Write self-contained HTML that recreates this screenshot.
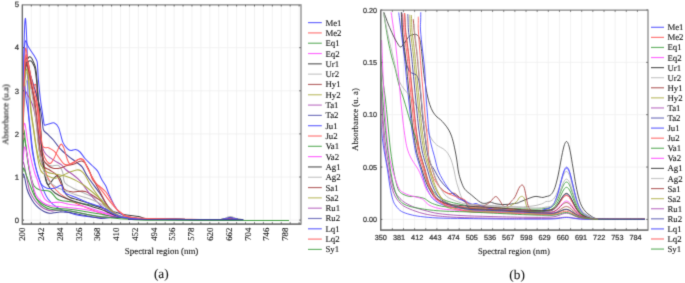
<!DOCTYPE html>
<html><head><meta charset="utf-8"><style>
html,body{margin:0;padding:0;background:#fff;width:685px;height:283px;overflow:hidden;}
svg{display:block;will-change:transform;}
text{text-rendering:geometricPrecision;}
.s{font-family:"Liberation Serif",serif;fill:#151515;stroke:#151515;stroke-width:0.1px;}
.n{font-family:"Liberation Sans",sans-serif;fill:#333;stroke:#333;stroke-width:0.22px;}
</style></head><body>
<svg width="685" height="283" viewBox="0 0 685 283">
<defs><filter id="bl" x="0" y="0" width="685" height="283" filterUnits="userSpaceOnUse" color-interpolation-filters="sRGB"><feConvolveMatrix order="3" kernelMatrix="1 6 1 6 36 6 1 6 1" divisor="64" edgeMode="duplicate"/></filter></defs>
<g filter="url(#bl)"><rect width="685" height="283" fill="#fff"/>
<defs><clipPath id="clipL"><rect x="22.4" y="4.8" width="278.6" height="219.2"/></clipPath><clipPath id="clipR"><rect x="380.9" y="12.2" width="267.1" height="217.4"/></clipPath></defs>
<path d="M31.30,4.8V224.0 M40.22,4.8V224.0 M49.15,4.8V224.0 M58.08,4.8V224.0 M67.00,4.8V224.0 M75.93,4.8V224.0 M84.86,4.8V224.0 M93.79,4.8V224.0 M102.71,4.8V224.0 M111.64,4.8V224.0 M120.57,4.8V224.0 M129.49,4.8V224.0 M138.42,4.8V224.0 M147.35,4.8V224.0 M156.28,4.8V224.0 M165.20,4.8V224.0 M174.13,4.8V224.0 M183.06,4.8V224.0 M191.98,4.8V224.0 M200.91,4.8V224.0 M209.84,4.8V224.0 M218.76,4.8V224.0 M227.69,4.8V224.0 M236.62,4.8V224.0 M245.54,4.8V224.0 M254.47,4.8V224.0 M263.40,4.8V224.0 M272.33,4.8V224.0 M281.25,4.8V224.0 M290.18,4.8V224.0 M299.11,4.8V224.0 M22.4,220.10H301.0 M22.4,177.00H301.0 M22.4,133.90H301.0 M22.4,90.80H301.0 M22.4,47.70H301.0" stroke="#efefef" stroke-width="0.8" fill="none"/>
<g clip-path="url(#clipL)" fill="none" stroke-width="1.05" stroke-linejoin="round">
<path d="M22.80,160.00 C22.93,145.00 23.32,91.67 23.60,70.00 C23.88,48.33 24.22,38.58 24.50,30.00 C24.78,21.42 25.03,19.17 25.30,18.50 C25.57,17.83 25.82,21.25 26.10,26.00 C26.38,30.75 26.75,39.67 27.00,47.00 C27.25,54.33 27.45,62.83 27.60,70.00 C27.75,77.17 27.77,83.33 27.90,90.00 C28.03,96.67 27.98,103.33 28.40,110.00 C28.82,116.67 29.68,123.33 30.40,130.00 C31.12,136.67 31.77,143.67 32.70,150.00 C33.63,156.33 34.62,162.33 36.00,168.00 C37.38,173.67 39.00,178.83 41.00,184.00 C43.00,189.17 45.17,195.00 48.00,199.00 C50.83,203.00 53.50,205.42 58.00,208.00 C62.50,210.58 68.00,212.83 75.00,214.50 C82.00,216.17 95.33,217.43 100.00,218.00 C104.67,218.57 102.00,217.98 103.00,217.94 C104.00,217.90 105.00,217.83 106.00,217.76 C107.00,217.69 108.00,217.60 109.00,217.52 C110.00,217.43 111.00,217.29 112.00,217.24 C113.00,217.20 114.00,217.23 115.00,217.25 C116.00,217.27 117.00,217.31 118.00,217.36 C119.00,217.41 119.83,217.47 121.00,217.55 C122.17,217.63 123.33,217.72 125.00,217.84 C126.67,217.95 128.83,218.12 131.00,218.25 C133.17,218.38 135.50,218.51 138.00,218.62 C140.50,218.73 143.00,218.83 146.00,218.92 C149.00,219.01 152.00,219.09 156.00,219.17 C160.00,219.24 161.83,219.30 170.00,219.37 C178.17,219.44 198.00,219.56 205.00,219.60 C212.00,219.64 209.83,219.60 212.00,219.60 C214.17,219.60 216.33,219.61 218.00,219.59 C219.67,219.58 220.83,219.56 222.00,219.50 C223.17,219.43 224.00,219.33 225.00,219.20 C226.00,219.08 227.12,218.86 228.00,218.76 C228.88,218.66 229.55,218.60 230.30,218.60 C231.05,218.60 231.63,218.65 232.50,218.75 C233.37,218.85 234.50,219.07 235.50,219.19 C236.50,219.31 237.25,219.42 238.50,219.49 C239.75,219.56 242.25,219.58 243.00,219.60" stroke="#5050ff"/>
<path d="M22.80,150.00 C23.00,138.33 23.60,96.33 24.00,80.00 C24.40,63.67 24.88,57.25 25.20,52.00 C25.52,46.75 25.63,48.33 25.90,48.50 C26.17,48.67 26.37,49.75 26.80,53.00 C27.23,56.25 27.85,62.83 28.50,68.00 C29.15,73.17 30.22,80.60 30.70,84.00 C31.18,87.40 31.02,87.90 31.40,88.40 C31.78,88.90 32.28,87.65 33.00,87.00 C33.72,86.35 35.12,83.17 35.70,84.50 C36.28,85.83 36.20,90.75 36.50,95.00 C36.80,99.25 37.00,104.17 37.50,110.00 C38.00,115.83 38.83,123.33 39.50,130.00 C40.17,136.67 40.75,144.17 41.50,150.00 C42.25,155.83 42.92,160.33 44.00,165.00 C45.08,169.67 46.00,173.83 48.00,178.00 C50.00,182.17 53.00,186.67 56.00,190.00 C59.00,193.33 62.00,195.50 66.00,198.00 C70.00,200.50 74.33,202.50 80.00,205.00 C85.67,207.50 96.17,211.48 100.00,213.00 C103.83,214.52 102.00,213.78 103.00,214.10 C104.00,214.43 105.00,214.72 106.00,214.97 C107.00,215.22 108.00,215.41 109.00,215.58 C110.00,215.74 111.00,215.80 112.00,215.96 C113.00,216.13 114.00,216.39 115.00,216.57 C116.00,216.75 117.00,216.90 118.00,217.05 C119.00,217.19 119.83,217.29 121.00,217.42 C122.17,217.55 123.33,217.67 125.00,217.81 C126.67,217.95 128.83,218.11 131.00,218.25 C133.17,218.38 135.50,218.51 138.00,218.62 C140.50,218.73 143.00,218.83 146.00,218.92 C149.00,219.01 152.00,219.09 156.00,219.17 C160.00,219.24 161.83,219.30 170.00,219.37 C178.17,219.44 198.00,219.56 205.00,219.60 C212.00,219.64 209.83,219.60 212.00,219.60 C214.17,219.60 216.33,219.61 218.00,219.60 C219.67,219.59 220.83,219.58 222.00,219.54 C223.17,219.50 224.00,219.44 225.00,219.36 C226.00,219.29 227.12,219.16 228.00,219.10 C228.88,219.04 229.55,219.00 230.30,219.00 C231.05,219.00 231.63,219.03 232.50,219.09 C233.37,219.15 234.50,219.28 235.50,219.35 C236.50,219.43 237.25,219.49 238.50,219.54 C239.75,219.58 242.25,219.59 243.00,219.60" stroke="#ff6262"/>
<path d="M22.80,160.00 C22.87,155.83 23.05,140.03 23.20,135.00 C23.35,129.97 23.48,130.13 23.70,129.80 C23.92,129.47 24.17,130.47 24.50,133.00 C24.83,135.53 25.12,140.00 25.70,145.00 C26.28,150.00 27.12,157.67 28.00,163.00 C28.88,168.33 29.98,173.17 31.00,177.00 C32.02,180.83 32.60,183.83 34.10,186.00 C35.60,188.17 37.35,189.08 40.00,190.00 C42.65,190.92 47.15,190.00 50.00,191.50 C52.85,193.00 54.75,197.42 57.10,199.00 C59.45,200.58 60.28,200.33 64.10,201.00 C67.92,201.67 74.02,202.00 80.00,203.00 C85.98,204.00 96.17,206.18 100.00,207.00 C103.83,207.82 102.00,207.54 103.00,207.93 C104.00,208.32 105.00,208.84 106.00,209.35 C107.00,209.86 108.00,210.45 109.00,210.98 C110.00,211.52 111.00,212.03 112.00,212.56 C113.00,213.09 114.00,213.69 115.00,214.19 C116.00,214.68 117.00,215.13 118.00,215.52 C119.00,215.91 119.83,216.21 121.00,216.53 C122.17,216.85 123.33,217.16 125.00,217.43 C126.67,217.71 128.83,217.97 131.00,218.17 C133.17,218.37 135.50,218.49 138.00,218.61 C140.50,218.73 143.00,218.82 146.00,218.92 C149.00,219.01 152.00,219.09 156.00,219.17 C160.00,219.24 161.83,219.30 170.00,219.37 C178.17,219.44 198.00,219.56 205.00,219.60 C212.00,219.64 209.83,219.60 212.00,219.60 C214.17,219.60 216.33,219.61 218.00,219.60 C219.67,219.59 220.83,219.58 222.00,219.55 C223.17,219.52 224.00,219.46 225.00,219.40 C226.00,219.34 227.12,219.23 228.00,219.18 C228.88,219.13 229.55,219.10 230.30,219.10 C231.05,219.10 231.63,219.12 232.50,219.17 C233.37,219.22 234.50,219.33 235.50,219.40 C236.50,219.46 237.25,219.51 238.50,219.55 C239.75,219.58 242.25,219.59 243.00,219.60" stroke="#44a044"/>
<path d="M22.80,150.00 C22.93,146.33 23.33,132.43 23.60,128.00 C23.87,123.57 24.10,123.73 24.40,123.40 C24.70,123.07 24.97,123.73 25.40,126.00 C25.83,128.27 26.37,133.00 27.00,137.00 C27.63,141.00 28.37,145.67 29.20,150.00 C30.03,154.33 31.03,159.00 32.00,163.00 C32.97,167.00 34.10,171.17 35.00,174.00 C35.90,176.83 36.48,177.33 37.40,180.00 C38.32,182.67 39.27,186.83 40.50,190.00 C41.73,193.17 43.33,196.95 44.80,199.00 C46.27,201.05 47.77,201.72 49.30,202.30 C50.83,202.88 52.27,202.50 54.00,202.50 C55.73,202.50 57.03,201.97 59.70,202.30 C62.37,202.63 66.28,203.88 70.00,204.50 C73.72,205.12 77.00,204.88 82.00,206.00 C87.00,207.12 96.50,210.17 100.00,211.20 C103.50,212.23 102.00,211.83 103.00,212.17 C104.00,212.51 105.00,212.89 106.00,213.22 C107.00,213.56 108.00,213.91 109.00,214.20 C110.00,214.49 111.00,214.71 112.00,214.99 C113.00,215.28 114.00,215.64 115.00,215.91 C116.00,216.19 117.00,216.43 118.00,216.64 C119.00,216.86 119.83,217.02 121.00,217.20 C122.17,217.38 123.33,217.55 125.00,217.73 C126.67,217.90 128.83,218.08 131.00,218.23 C133.17,218.38 135.50,218.50 138.00,218.62 C140.50,218.73 143.00,218.83 146.00,218.92 C149.00,219.01 152.00,219.09 156.00,219.17 C160.00,219.24 161.83,219.30 170.00,219.37 C178.17,219.44 198.00,219.56 205.00,219.60 C212.00,219.64 209.83,219.60 212.00,219.60 C214.17,219.60 216.33,219.61 218.00,219.60 C219.67,219.59 220.83,219.58 222.00,219.55 C223.17,219.52 224.00,219.46 225.00,219.40 C226.00,219.34 227.12,219.23 228.00,219.18 C228.88,219.13 229.55,219.10 230.30,219.10 C231.05,219.10 231.63,219.12 232.50,219.17 C233.37,219.22 234.50,219.33 235.50,219.40 C236.50,219.46 237.25,219.51 238.50,219.55 C239.75,219.58 242.25,219.59 243.00,219.60" stroke="#ff58ff"/>
<path d="M22.80,120.00 C23.08,112.67 23.88,85.67 24.50,76.00 C25.12,66.33 25.75,65.17 26.50,62.00 C27.25,58.83 28.17,57.67 29.00,57.00 C29.83,56.33 30.75,57.17 31.50,58.00 C32.25,58.83 32.82,60.33 33.50,62.00 C34.18,63.67 35.02,65.00 35.60,68.00 C36.18,71.00 36.57,74.67 37.00,80.00 C37.43,85.33 37.87,95.00 38.20,100.00 C38.53,105.00 38.67,105.83 39.00,110.00 C39.33,114.17 39.70,118.67 40.20,125.00 C40.70,131.33 41.48,142.17 42.00,148.00 C42.52,153.83 42.73,154.95 43.30,160.00 C43.87,165.05 44.57,174.20 45.40,178.30 C46.23,182.40 46.88,184.60 48.30,184.60 C49.72,184.60 52.37,179.80 53.90,178.30 C55.43,176.80 56.40,175.48 57.50,175.60 C58.60,175.72 59.58,177.10 60.50,179.00 C61.42,180.90 62.10,184.47 63.00,187.00 C63.90,189.53 64.73,192.45 65.90,194.20 C67.07,195.95 68.23,196.62 70.00,197.50 C71.77,198.38 73.95,198.73 76.50,199.50 C79.05,200.27 81.38,200.78 85.30,202.10 C89.22,203.42 93.92,205.42 100.00,207.40 C106.08,209.38 115.33,212.47 121.80,214.00 C128.27,215.53 133.70,215.73 138.80,216.60 C143.90,217.47 141.37,218.70 152.40,219.20 C163.43,219.70 195.07,219.53 205.00,219.60 C214.93,219.67 209.83,219.60 212.00,219.60 C214.17,219.60 216.33,219.62 218.00,219.59 C219.67,219.56 220.83,219.54 222.00,219.44 C223.17,219.33 224.00,219.16 225.00,218.97 C226.00,218.77 227.12,218.42 228.00,218.26 C228.88,218.10 229.55,218.00 230.30,218.00 C231.05,218.00 231.63,218.08 232.50,218.24 C233.37,218.39 234.50,218.75 235.50,218.95 C236.50,219.14 237.25,219.32 238.50,219.43 C239.75,219.53 242.25,219.56 243.00,219.59" stroke="#444444"/>
<path d="M22.80,130.00 C23.08,122.50 23.80,94.67 24.50,85.00 C25.20,75.33 26.08,72.83 27.00,72.00 C27.92,71.17 29.00,76.50 30.00,80.00 C31.00,83.50 32.13,88.00 33.00,93.00 C33.87,98.00 34.48,103.83 35.20,110.00 C35.92,116.17 36.58,123.33 37.30,130.00 C38.02,136.67 38.63,145.00 39.50,150.00 C40.37,155.00 41.25,157.67 42.50,160.00 C43.75,162.33 45.42,163.00 47.00,164.00 C48.58,165.00 50.10,165.77 52.00,166.00 C53.90,166.23 56.63,164.40 58.40,165.40 C60.17,166.40 61.50,169.07 62.60,172.00 C63.70,174.93 62.68,180.05 65.00,183.00 C67.32,185.95 72.23,187.55 76.50,189.70 C80.77,191.85 86.68,194.18 90.60,195.90 C94.52,197.62 97.93,199.01 100.00,200.00 C102.07,200.99 102.00,201.10 103.00,201.85 C104.00,202.60 105.00,203.56 106.00,204.49 C107.00,205.41 108.00,206.46 109.00,207.39 C110.00,208.33 111.00,209.24 112.00,210.12 C113.00,210.99 114.00,211.90 115.00,212.66 C116.00,213.41 117.00,214.08 118.00,214.64 C119.00,215.21 119.83,215.63 121.00,216.07 C122.17,216.50 123.33,216.91 125.00,217.26 C126.67,217.60 128.83,217.91 131.00,218.14 C133.17,218.36 135.50,218.48 138.00,218.61 C140.50,218.74 143.00,218.82 146.00,218.92 C149.00,219.01 152.00,219.09 156.00,219.17 C160.00,219.24 161.83,219.30 170.00,219.37 C178.17,219.44 198.00,219.56 205.00,219.60 C212.00,219.64 209.83,219.60 212.00,219.60 C214.17,219.60 216.33,219.62 218.00,219.58 C219.67,219.54 220.83,219.51 222.00,219.35 C223.17,219.20 224.00,218.95 225.00,218.65 C226.00,218.36 227.12,217.83 228.00,217.59 C228.88,217.34 229.55,217.21 230.30,217.20 C231.05,217.19 231.63,217.32 232.50,217.55 C233.37,217.79 234.50,218.32 235.50,218.62 C236.50,218.92 237.25,219.18 238.50,219.34 C239.75,219.50 242.25,219.55 243.00,219.59" stroke="#b4b4b4"/>
<path d="M22.80,120.00 C23.08,111.67 23.97,80.33 24.50,70.00 C25.03,59.67 25.42,59.33 26.00,58.00 C26.58,56.67 27.33,59.67 28.00,62.00 C28.67,64.33 29.33,67.67 30.00,72.00 C30.67,76.33 31.17,81.67 32.00,88.00 C32.83,94.33 34.13,103.00 35.00,110.00 C35.87,117.00 36.50,123.33 37.20,130.00 C37.90,136.67 38.48,144.67 39.20,150.00 C39.92,155.33 40.70,159.17 41.50,162.00 C42.30,164.83 42.58,165.62 44.00,167.00 C45.42,168.38 47.82,168.87 50.00,170.30 C52.18,171.73 54.75,172.48 57.10,175.60 C59.45,178.72 61.45,186.27 64.10,189.00 C66.75,191.73 69.47,191.58 73.00,192.00 C76.53,192.42 80.80,190.12 85.30,191.50 C89.80,192.88 97.05,198.33 100.00,200.30 C102.95,202.27 102.00,202.29 103.00,203.35 C104.00,204.40 105.00,205.58 106.00,206.63 C107.00,207.68 108.00,208.74 109.00,209.65 C110.00,210.56 111.00,211.33 112.00,212.09 C113.00,212.85 114.00,213.60 115.00,214.21 C116.00,214.81 117.00,215.30 118.00,215.72 C119.00,216.14 119.83,216.43 121.00,216.74 C122.17,217.04 123.33,217.32 125.00,217.56 C126.67,217.81 128.83,218.03 131.00,218.21 C133.17,218.38 135.50,218.50 138.00,218.62 C140.50,218.73 143.00,218.83 146.00,218.92 C149.00,219.01 152.00,219.09 156.00,219.17 C160.00,219.24 161.83,219.30 170.00,219.37 C178.17,219.44 198.00,219.56 205.00,219.60 C212.00,219.64 209.83,219.60 212.00,219.60 C214.17,219.60 216.33,219.60 218.00,219.60 C219.67,219.59 220.83,219.58 222.00,219.56 C223.17,219.53 224.00,219.49 225.00,219.44 C226.00,219.39 227.12,219.30 228.00,219.26 C228.88,219.22 229.55,219.20 230.30,219.20 C231.05,219.20 231.63,219.22 232.50,219.26 C233.37,219.30 234.50,219.39 235.50,219.44 C236.50,219.49 237.25,219.53 238.50,219.56 C239.75,219.58 242.25,219.59 243.00,219.60" stroke="#a84444"/>
<path d="M22.80,125.00 C23.08,116.67 23.97,85.50 24.50,75.00 C25.03,64.50 25.50,63.17 26.00,62.00 C26.50,60.83 27.00,64.17 27.50,68.00 C28.00,71.83 28.47,78.00 29.00,85.00 C29.53,92.00 29.95,102.50 30.70,110.00 C31.45,117.50 32.55,123.33 33.50,130.00 C34.45,136.67 35.23,143.33 36.40,150.00 C37.57,156.67 38.52,165.65 40.50,170.00 C42.48,174.35 45.83,174.72 48.30,176.10 C50.77,177.48 52.67,178.53 55.30,178.30 C57.93,178.07 61.65,175.75 64.10,174.70 C66.55,173.65 67.93,172.78 70.00,172.00 C72.07,171.22 74.75,170.25 76.50,170.00 C78.25,169.75 79.08,169.67 80.50,170.50 C81.92,171.33 83.32,172.53 85.00,175.00 C86.68,177.47 88.10,181.37 90.60,185.30 C93.10,189.23 97.93,195.66 100.00,198.60 C102.07,201.54 102.00,201.53 103.00,202.93 C104.00,204.32 105.00,205.75 106.00,206.99 C107.00,208.22 108.00,209.36 109.00,210.33 C110.00,211.29 111.00,212.04 112.00,212.78 C113.00,213.53 114.00,214.22 115.00,214.77 C116.00,215.33 117.00,215.75 118.00,216.11 C119.00,216.48 119.83,216.71 121.00,216.97 C122.17,217.23 123.33,217.45 125.00,217.66 C126.67,217.87 128.83,218.07 131.00,218.23 C133.17,218.39 135.50,218.50 138.00,218.62 C140.50,218.73 143.00,218.83 146.00,218.92 C149.00,219.01 152.00,219.09 156.00,219.17 C160.00,219.24 161.83,219.30 170.00,219.37 C178.17,219.44 198.00,219.56 205.00,219.60 C212.00,219.64 209.83,219.60 212.00,219.60 C214.17,219.60 216.33,219.60 218.00,219.60 C219.67,219.59 220.83,219.58 222.00,219.56 C223.17,219.53 224.00,219.49 225.00,219.44 C226.00,219.39 227.12,219.30 228.00,219.26 C228.88,219.22 229.55,219.20 230.30,219.20 C231.05,219.20 231.63,219.22 232.50,219.26 C233.37,219.30 234.50,219.39 235.50,219.44 C236.50,219.49 237.25,219.53 238.50,219.56 C239.75,219.58 242.25,219.59 243.00,219.60" stroke="#acac48"/>
<path d="M22.80,140.00 C23.00,134.17 23.55,113.00 24.00,105.00 C24.45,97.00 24.92,93.67 25.50,92.00 C26.08,90.33 26.67,93.67 27.50,95.00 C28.33,96.33 29.50,97.83 30.50,100.00 C31.50,102.17 32.50,104.33 33.50,108.00 C34.50,111.67 35.58,117.50 36.50,122.00 C37.42,126.50 38.17,131.17 39.00,135.00 C39.83,138.83 40.38,141.83 41.50,145.00 C42.62,148.17 43.60,151.43 45.70,154.00 C47.80,156.57 51.52,158.62 54.10,160.40 C56.68,162.18 59.18,163.10 61.20,164.70 C63.22,166.30 64.40,168.45 66.20,170.00 C68.00,171.55 69.70,172.18 72.00,174.00 C74.30,175.82 76.90,177.40 80.00,180.90 C83.10,184.40 87.27,191.02 90.60,195.00 C93.93,198.98 97.93,202.65 100.00,204.80 C102.07,206.95 102.00,206.92 103.00,207.89 C104.00,208.86 105.00,209.82 106.00,210.64 C107.00,211.45 108.00,212.18 109.00,212.80 C110.00,213.41 111.00,213.84 112.00,214.32 C113.00,214.80 114.00,215.28 115.00,215.66 C116.00,216.04 117.00,216.33 118.00,216.58 C119.00,216.84 119.83,217.01 121.00,217.20 C122.17,217.40 123.33,217.57 125.00,217.74 C126.67,217.91 128.83,218.09 131.00,218.24 C133.17,218.39 135.50,218.50 138.00,218.62 C140.50,218.73 143.00,218.83 146.00,218.92 C149.00,219.01 152.00,219.09 156.00,219.17 C160.00,219.24 161.83,219.30 170.00,219.37 C178.17,219.44 198.00,219.56 205.00,219.60 C212.00,219.64 209.83,219.60 212.00,219.60 C214.17,219.60 216.33,219.61 218.00,219.60 C219.67,219.59 220.83,219.58 222.00,219.55 C223.17,219.52 224.00,219.46 225.00,219.40 C226.00,219.34 227.12,219.23 228.00,219.18 C228.88,219.13 229.55,219.10 230.30,219.10 C231.05,219.10 231.63,219.12 232.50,219.17 C233.37,219.22 234.50,219.33 235.50,219.40 C236.50,219.46 237.25,219.51 238.50,219.55 C239.75,219.58 242.25,219.59 243.00,219.60" stroke="#a854b0"/>
<path d="M22.80,130.00 C23.00,121.67 23.55,91.33 24.00,80.00 C24.45,68.67 24.83,64.00 25.50,62.00 C26.17,60.00 26.92,65.00 28.00,68.00 C29.08,71.00 30.83,76.33 32.00,80.00 C33.17,83.67 34.00,86.67 35.00,90.00 C36.00,93.33 37.07,96.67 38.00,100.00 C38.93,103.33 39.87,106.33 40.60,110.00 C41.33,113.67 41.92,118.67 42.40,122.00 C42.88,125.33 42.62,127.97 43.50,130.00 C44.38,132.03 46.05,132.53 47.70,134.20 C49.35,135.87 51.38,137.63 53.40,140.00 C55.42,142.37 57.32,145.70 59.80,148.40 C62.28,151.10 65.77,154.07 68.30,156.20 C70.83,158.33 72.70,159.42 75.00,161.20 C77.30,162.98 79.98,164.30 82.10,166.90 C84.22,169.50 84.72,172.35 87.70,176.80 C90.68,181.25 97.45,189.99 100.00,193.61 C102.55,197.24 102.00,196.90 103.00,198.55 C104.00,200.20 105.00,201.95 106.00,203.49 C107.00,205.03 108.00,206.52 109.00,207.78 C110.00,209.05 111.00,210.10 112.00,211.09 C113.00,212.08 114.00,213.00 115.00,213.73 C116.00,214.47 117.00,215.04 118.00,215.53 C119.00,216.01 119.83,216.33 121.00,216.67 C122.17,217.01 123.33,217.30 125.00,217.55 C126.67,217.81 128.83,218.03 131.00,218.21 C133.17,218.39 135.50,218.50 138.00,218.62 C140.50,218.73 143.00,218.83 146.00,218.92 C149.00,219.01 152.00,219.09 156.00,219.17 C160.00,219.24 161.83,219.30 170.00,219.37 C178.17,219.44 198.00,219.56 205.00,219.60 C212.00,219.64 209.83,219.60 212.00,219.60 C214.17,219.60 216.33,219.61 218.00,219.59 C219.67,219.57 220.83,219.55 222.00,219.48 C223.17,219.40 224.00,219.27 225.00,219.13 C226.00,218.98 227.12,218.71 228.00,218.59 C228.88,218.47 229.55,218.40 230.30,218.40 C231.05,218.40 231.63,218.46 232.50,218.58 C233.37,218.70 234.50,218.96 235.50,219.11 C236.50,219.26 237.25,219.39 238.50,219.47 C239.75,219.55 242.25,219.57 243.00,219.59" stroke="#44449c"/>
<path d="M22.80,110.00 C23.00,100.83 23.57,66.50 24.00,55.00 C24.43,43.50 24.77,42.55 25.40,41.00 C26.03,39.45 26.87,44.03 27.80,45.70 C28.73,47.37 29.95,49.35 31.00,51.00 C32.05,52.65 33.10,53.90 34.10,55.60 C35.10,57.30 36.40,59.08 37.00,61.20 C37.60,63.32 37.47,65.17 37.70,68.30 C37.93,71.43 37.93,74.72 38.40,80.00 C38.87,85.28 39.90,95.00 40.50,100.00 C41.10,105.00 41.50,106.67 42.00,110.00 C42.50,113.33 43.08,117.50 43.50,120.00 C43.92,122.50 43.75,124.30 44.50,125.00 C45.25,125.70 46.35,124.55 48.00,124.20 C49.65,123.85 52.63,122.33 54.40,122.90 C56.17,123.47 57.18,124.35 58.60,127.60 C60.02,130.85 61.43,138.90 62.90,142.40 C64.37,145.90 66.05,147.25 67.40,148.60 C68.75,149.95 69.63,150.35 71.00,150.50 C72.37,150.65 74.10,149.25 75.60,149.50 C77.10,149.75 78.43,150.50 80.00,152.00 C81.57,153.50 83.00,156.25 85.00,158.50 C87.00,160.75 89.90,163.40 92.00,165.50 C94.10,167.60 95.98,168.77 97.60,171.10 C99.22,173.43 100.33,177.02 101.70,179.50 C103.07,181.98 104.57,183.52 105.80,186.00 C107.03,188.48 107.50,190.88 109.10,194.40 C110.70,197.92 113.28,203.75 115.40,207.10 C117.52,210.45 118.97,212.73 121.80,214.50 C124.63,216.27 127.70,216.92 132.40,217.70 C137.10,218.48 137.90,218.88 150.00,219.20 C162.10,219.52 194.67,219.53 205.00,219.60 C215.33,219.67 209.83,219.60 212.00,219.60 C214.17,219.60 216.33,219.62 218.00,219.59 C219.67,219.56 220.83,219.54 222.00,219.45 C223.17,219.35 224.00,219.19 225.00,219.01 C226.00,218.82 227.12,218.49 228.00,218.34 C228.88,218.19 229.55,218.10 230.30,218.10 C231.05,218.10 231.63,218.17 232.50,218.32 C233.37,218.47 234.50,218.80 235.50,218.99 C236.50,219.17 237.25,219.34 238.50,219.44 C239.75,219.54 242.25,219.57 243.00,219.59" stroke="#5050ff"/>
<path d="M22.80,140.00 C23.08,128.67 23.97,85.33 24.50,72.00 C25.03,58.67 25.42,60.67 26.00,60.00 C26.58,59.33 27.33,64.67 28.00,68.00 C28.67,71.33 29.00,75.33 30.00,80.00 C31.00,84.67 32.70,91.00 34.00,96.00 C35.30,101.00 36.88,105.17 37.80,110.00 C38.72,114.83 38.97,120.00 39.50,125.00 C40.03,130.00 40.53,135.83 41.00,140.00 C41.47,144.17 41.65,147.00 42.30,150.00 C42.95,153.00 43.87,155.83 44.90,158.00 C45.93,160.17 47.48,162.17 48.50,163.00 C49.52,163.83 50.07,163.78 51.00,163.00 C51.93,162.22 52.87,160.73 54.10,158.30 C55.33,155.87 57.22,150.77 58.40,148.40 C59.58,146.03 60.27,144.10 61.20,144.10 C62.13,144.10 63.05,146.03 64.00,148.40 C64.95,150.77 65.95,155.70 66.90,158.30 C67.85,160.90 68.52,163.30 69.70,164.00 C70.88,164.70 72.65,163.20 74.00,162.50 C75.35,161.80 76.68,160.48 77.80,159.80 C78.92,159.12 79.75,158.40 80.70,158.40 C81.65,158.40 82.57,158.62 83.50,159.80 C84.43,160.98 85.23,163.38 86.30,165.50 C87.37,167.62 88.83,170.08 89.90,172.50 C90.97,174.92 91.27,177.83 92.70,180.00 C94.13,182.17 96.30,183.50 98.50,185.50 C100.70,187.50 103.43,188.93 105.90,192.00 C108.37,195.07 111.18,200.68 113.30,203.90 C115.42,207.12 116.15,209.20 118.60,211.30 C121.05,213.40 123.60,215.22 128.00,216.50 C132.40,217.78 132.17,218.48 145.00,219.00 C157.83,219.52 193.83,219.50 205.00,219.60 C216.17,219.70 209.83,219.60 212.00,219.60 C214.17,219.60 216.33,219.61 218.00,219.60 C219.67,219.59 220.83,219.58 222.00,219.55 C223.17,219.52 224.00,219.46 225.00,219.40 C226.00,219.34 227.12,219.23 228.00,219.18 C228.88,219.13 229.55,219.10 230.30,219.10 C231.05,219.10 231.63,219.12 232.50,219.17 C233.37,219.22 234.50,219.33 235.50,219.40 C236.50,219.46 237.25,219.51 238.50,219.55 C239.75,219.58 242.25,219.59 243.00,219.60" stroke="#ff6262"/>
<path d="M22.80,155.00 C22.88,152.83 23.10,144.83 23.30,142.00 C23.50,139.17 23.72,138.17 24.00,138.00 C24.28,137.83 24.58,139.00 25.00,141.00 C25.42,143.00 25.92,146.00 26.50,150.00 C27.08,154.00 27.92,160.83 28.50,165.00 C29.08,169.17 29.25,171.17 30.00,175.00 C30.75,178.83 32.00,184.20 33.00,188.00 C34.00,191.80 34.50,195.22 36.00,197.80 C37.50,200.38 39.53,201.90 42.00,203.50 C44.47,205.10 48.13,206.57 50.80,207.40 C53.47,208.23 55.30,208.23 58.00,208.50 C60.70,208.77 63.00,208.58 67.00,209.00 C71.00,209.42 76.50,210.15 82.00,211.00 C87.50,211.85 96.50,213.49 100.00,214.10 C103.50,214.71 102.00,214.46 103.00,214.63 C104.00,214.81 105.00,214.99 106.00,215.15 C107.00,215.31 108.00,215.46 109.00,215.58 C110.00,215.71 111.00,215.76 112.00,215.91 C113.00,216.06 114.00,216.31 115.00,216.48 C116.00,216.66 117.00,216.83 118.00,216.98 C119.00,217.12 119.83,217.24 121.00,217.38 C122.17,217.51 123.33,217.65 125.00,217.79 C126.67,217.94 128.83,218.11 131.00,218.25 C133.17,218.38 135.50,218.51 138.00,218.62 C140.50,218.73 143.00,218.83 146.00,218.92 C149.00,219.01 152.00,219.09 156.00,219.17 C160.00,219.24 161.83,219.30 170.00,219.37 C178.17,219.44 198.00,219.56 205.00,219.60 C212.00,219.64 209.83,219.60 212.00,219.60 C214.17,219.60 216.33,219.61 218.00,219.59 C219.67,219.57 220.83,219.55 222.00,219.48 C223.17,219.40 224.00,219.27 225.00,219.13 C226.00,218.98 227.12,218.71 228.00,218.59 C228.88,218.47 229.55,218.40 230.30,218.40 C231.05,218.40 231.63,218.46 232.50,218.58 C233.37,218.70 234.50,218.96 235.50,219.11 C236.50,219.26 237.25,219.39 238.50,219.47 C239.75,219.55 242.25,219.57 243.00,219.59" stroke="#44a044"/>
<path d="M22.80,165.00 C23.00,162.50 23.60,153.00 24.00,150.00 C24.40,147.00 24.78,146.67 25.20,147.00 C25.62,147.33 25.87,148.83 26.50,152.00 C27.13,155.17 28.08,161.00 29.00,166.00 C29.92,171.00 30.83,177.17 32.00,182.00 C33.17,186.83 34.33,191.67 36.00,195.00 C37.67,198.33 39.78,200.25 42.00,202.00 C44.22,203.75 46.63,204.75 49.30,205.50 C51.97,206.25 55.05,206.18 58.00,206.50 C60.95,206.82 63.00,206.98 67.00,207.40 C71.00,207.82 76.50,208.15 82.00,209.00 C87.50,209.85 96.50,211.80 100.00,212.50 C103.50,213.20 102.00,212.93 103.00,213.17 C104.00,213.41 105.00,213.69 106.00,213.94 C107.00,214.18 108.00,214.44 109.00,214.66 C110.00,214.89 111.00,215.04 112.00,215.27 C113.00,215.50 114.00,215.82 115.00,216.06 C116.00,216.30 117.00,216.52 118.00,216.71 C119.00,216.91 119.83,217.06 121.00,217.23 C122.17,217.40 123.33,217.56 125.00,217.73 C126.67,217.90 128.83,218.09 131.00,218.23 C133.17,218.38 135.50,218.50 138.00,218.62 C140.50,218.73 143.00,218.83 146.00,218.92 C149.00,219.01 152.00,219.09 156.00,219.17 C160.00,219.24 161.83,219.30 170.00,219.37 C178.17,219.44 198.00,219.56 205.00,219.60 C212.00,219.64 209.83,219.60 212.00,219.60 C214.17,219.60 216.33,219.61 218.00,219.60 C219.67,219.59 220.83,219.58 222.00,219.55 C223.17,219.52 224.00,219.46 225.00,219.40 C226.00,219.34 227.12,219.23 228.00,219.18 C228.88,219.13 229.55,219.10 230.30,219.10 C231.05,219.10 231.63,219.12 232.50,219.17 C233.37,219.22 234.50,219.33 235.50,219.40 C236.50,219.46 237.25,219.51 238.50,219.55 C239.75,219.58 242.25,219.59 243.00,219.60" stroke="#ff58ff"/>
<path d="M22.80,125.00 C23.08,117.50 23.88,90.17 24.50,80.00 C25.12,69.83 25.83,67.13 26.50,64.00 C27.17,60.87 27.75,61.70 28.50,61.20 C29.25,60.70 30.30,60.65 31.00,61.00 C31.70,61.35 32.05,62.08 32.70,63.30 C33.35,64.52 34.27,65.52 34.90,68.30 C35.53,71.08 35.93,74.72 36.50,80.00 C37.07,85.28 37.80,95.00 38.30,100.00 C38.80,105.00 39.13,105.83 39.50,110.00 C39.87,114.17 40.12,118.33 40.50,125.00 C40.88,131.67 41.22,142.50 41.80,150.00 C42.38,157.50 42.97,164.17 44.00,170.00 C45.03,175.83 46.17,181.17 48.00,185.00 C49.83,188.83 52.17,190.83 55.00,193.00 C57.83,195.17 60.83,196.33 65.00,198.00 C69.17,199.67 74.17,201.17 80.00,203.00 C85.83,204.83 96.17,207.82 100.00,209.00 C103.83,210.18 102.00,209.70 103.00,210.10 C104.00,210.51 105.00,211.00 106.00,211.46 C107.00,211.91 108.00,212.39 109.00,212.82 C110.00,213.24 111.00,213.60 112.00,214.00 C113.00,214.41 114.00,214.87 115.00,215.24 C116.00,215.62 117.00,215.94 118.00,216.23 C119.00,216.52 119.83,216.73 121.00,216.96 C122.17,217.20 123.33,217.42 125.00,217.63 C126.67,217.84 128.83,218.05 131.00,218.21 C133.17,218.38 135.50,218.50 138.00,218.62 C140.50,218.73 143.00,218.83 146.00,218.92 C149.00,219.01 152.00,219.09 156.00,219.17 C160.00,219.24 161.83,219.30 170.00,219.37 C178.17,219.44 198.00,219.56 205.00,219.60 C212.00,219.64 209.83,219.60 212.00,219.60 C214.17,219.60 216.33,219.62 218.00,219.59 C219.67,219.55 220.83,219.52 222.00,219.37 C223.17,219.23 224.00,219.00 225.00,218.73 C226.00,218.46 227.12,217.97 228.00,217.75 C228.88,217.53 229.55,217.40 230.30,217.40 C231.05,217.40 231.63,217.51 232.50,217.73 C233.37,217.94 234.50,218.43 235.50,218.70 C236.50,218.97 237.25,219.21 238.50,219.36 C239.75,219.51 242.25,219.55 243.00,219.59" stroke="#444444"/>
<path d="M22.80,140.00 C23.08,132.50 23.80,105.00 24.50,95.00 C25.20,85.00 26.25,82.17 27.00,80.00 C27.75,77.83 28.25,80.00 29.00,82.00 C29.75,84.00 30.58,87.33 31.50,92.00 C32.42,96.67 33.62,103.67 34.50,110.00 C35.38,116.33 36.05,123.33 36.80,130.00 C37.55,136.67 38.05,143.83 39.00,150.00 C39.95,156.17 41.00,162.00 42.50,167.00 C44.00,172.00 45.75,176.67 48.00,180.00 C50.25,183.33 53.00,185.17 56.00,187.00 C59.00,188.83 62.58,189.67 66.00,191.00 C69.42,192.33 72.50,193.67 76.50,195.00 C80.50,196.33 86.08,197.58 90.00,199.00 C93.92,200.42 97.83,202.46 100.00,203.50 C102.17,204.54 102.00,204.57 103.00,205.24 C104.00,205.90 105.00,206.72 106.00,207.48 C107.00,208.25 108.00,209.08 109.00,209.83 C110.00,210.57 111.00,211.24 112.00,211.92 C113.00,212.60 114.00,213.32 115.00,213.91 C116.00,214.49 117.00,215.00 118.00,215.44 C119.00,215.87 119.83,216.19 121.00,216.53 C122.17,216.86 123.33,217.18 125.00,217.46 C126.67,217.73 128.83,217.99 131.00,218.18 C133.17,218.37 135.50,218.49 138.00,218.61 C140.50,218.73 143.00,218.82 146.00,218.92 C149.00,219.01 152.00,219.09 156.00,219.17 C160.00,219.24 161.83,219.30 170.00,219.37 C178.17,219.44 198.00,219.56 205.00,219.60 C212.00,219.64 209.83,219.60 212.00,219.60 C214.17,219.60 216.33,219.63 218.00,219.58 C219.67,219.53 220.83,219.48 222.00,219.28 C223.17,219.08 224.00,218.76 225.00,218.38 C226.00,217.99 227.12,217.31 228.00,217.00 C228.88,216.68 229.55,216.51 230.30,216.50 C231.05,216.49 231.63,216.65 232.50,216.96 C233.37,217.26 234.50,217.95 235.50,218.33 C236.50,218.72 237.25,219.06 238.50,219.26 C239.75,219.47 242.25,219.53 243.00,219.59" stroke="#b4b4b4"/>
<path d="M22.80,130.00 C23.08,121.33 23.97,89.00 24.50,78.00 C25.03,67.00 25.42,65.67 26.00,64.00 C26.58,62.33 27.17,65.00 28.00,68.00 C28.83,71.00 30.00,77.17 31.00,82.00 C32.00,86.83 33.17,92.33 34.00,97.00 C34.83,101.67 35.30,104.50 36.00,110.00 C36.70,115.50 37.50,123.33 38.20,130.00 C38.90,136.67 39.32,145.00 40.20,150.00 C41.08,155.00 42.20,157.42 43.50,160.00 C44.80,162.58 46.42,164.13 48.00,165.50 C49.58,166.87 51.33,167.70 53.00,168.20 C54.67,168.70 56.50,168.62 58.00,168.50 C59.50,168.38 60.50,167.98 62.00,167.50 C63.50,167.02 64.98,166.17 67.00,165.60 C69.02,165.03 72.10,164.78 74.10,164.10 C76.10,163.42 77.68,162.02 79.00,161.50 C80.32,160.98 81.00,160.75 82.00,161.00 C83.00,161.25 84.00,161.83 85.00,163.00 C86.00,164.17 86.83,165.67 88.00,168.00 C89.17,170.33 90.00,173.00 92.00,177.00 C94.00,181.00 98.17,188.55 100.00,192.00 C101.83,195.45 102.00,195.83 103.00,197.69 C104.00,199.55 105.00,201.48 106.00,203.15 C107.00,204.83 108.00,206.41 109.00,207.74 C110.00,209.08 111.00,210.16 112.00,211.18 C113.00,212.20 114.00,213.11 115.00,213.85 C116.00,214.59 117.00,215.14 118.00,215.62 C119.00,216.10 119.83,216.41 121.00,216.73 C122.17,217.06 123.33,217.34 125.00,217.58 C126.67,217.83 128.83,218.04 131.00,218.22 C133.17,218.39 135.50,218.50 138.00,218.62 C140.50,218.73 143.00,218.83 146.00,218.92 C149.00,219.01 152.00,219.09 156.00,219.17 C160.00,219.24 161.83,219.30 170.00,219.37 C178.17,219.44 198.00,219.56 205.00,219.60 C212.00,219.64 209.83,219.60 212.00,219.60 C214.17,219.60 216.33,219.60 218.00,219.60 C219.67,219.59 220.83,219.58 222.00,219.56 C223.17,219.53 224.00,219.49 225.00,219.44 C226.00,219.39 227.12,219.30 228.00,219.26 C228.88,219.22 229.55,219.20 230.30,219.20 C231.05,219.20 231.63,219.22 232.50,219.26 C233.37,219.30 234.50,219.39 235.50,219.44 C236.50,219.49 237.25,219.53 238.50,219.56 C239.75,219.58 242.25,219.59 243.00,219.60" stroke="#a84444"/>
<path d="M22.80,135.00 C23.08,126.67 23.97,95.83 24.50,85.00 C25.03,74.17 25.50,72.17 26.00,70.00 C26.50,67.83 26.97,69.17 27.50,72.00 C28.03,74.83 28.60,80.67 29.20,87.00 C29.80,93.33 30.32,102.83 31.10,110.00 C31.88,117.17 32.93,123.33 33.90,130.00 C34.87,136.67 35.72,144.17 36.90,150.00 C38.08,155.83 39.32,161.33 41.00,165.00 C42.68,168.67 44.67,170.50 47.00,172.00 C49.33,173.50 52.00,173.33 55.00,174.00 C58.00,174.67 61.67,175.00 65.00,176.00 C68.33,177.00 71.67,178.33 75.00,180.00 C78.33,181.67 80.83,182.90 85.00,186.00 C89.17,189.10 97.00,195.99 100.00,198.62 C103.00,201.24 102.00,200.62 103.00,201.73 C104.00,202.83 105.00,204.09 106.00,205.22 C107.00,206.36 108.00,207.53 109.00,208.54 C110.00,209.55 111.00,210.44 112.00,211.30 C113.00,212.16 114.00,213.00 115.00,213.68 C116.00,214.37 117.00,214.92 118.00,215.40 C119.00,215.88 119.83,216.21 121.00,216.56 C122.17,216.91 123.33,217.22 125.00,217.49 C126.67,217.76 128.83,218.01 131.00,218.19 C133.17,218.38 135.50,218.49 138.00,218.61 C140.50,218.73 143.00,218.83 146.00,218.92 C149.00,219.01 152.00,219.09 156.00,219.17 C160.00,219.24 161.83,219.30 170.00,219.37 C178.17,219.44 198.00,219.56 205.00,219.60 C212.00,219.64 209.83,219.60 212.00,219.60 C214.17,219.60 216.33,219.60 218.00,219.60 C219.67,219.59 220.83,219.58 222.00,219.56 C223.17,219.53 224.00,219.49 225.00,219.44 C226.00,219.39 227.12,219.30 228.00,219.26 C228.88,219.22 229.55,219.20 230.30,219.20 C231.05,219.20 231.63,219.22 232.50,219.26 C233.37,219.30 234.50,219.39 235.50,219.44 C236.50,219.49 237.25,219.53 238.50,219.56 C239.75,219.58 242.25,219.59 243.00,219.60" stroke="#acac48"/>
<path d="M22.60,164.00 C22.70,163.67 22.97,162.00 23.20,162.00 C23.43,162.00 23.53,162.00 24.00,164.00 C24.47,166.00 25.33,170.67 26.00,174.00 C26.67,177.33 27.33,181.02 28.00,184.00 C28.67,186.98 28.83,189.15 30.00,191.90 C31.17,194.65 33.27,198.15 35.00,200.50 C36.73,202.85 38.73,204.58 40.40,206.00 C42.07,207.42 43.27,208.20 45.00,209.00 C46.73,209.80 49.13,210.55 50.80,210.80 C52.47,211.05 53.52,210.60 55.00,210.50 C56.48,210.40 58.03,210.18 59.70,210.20 C61.37,210.22 63.28,210.47 65.00,210.60 C66.72,210.73 67.17,210.55 70.00,211.00 C72.83,211.45 77.00,212.27 82.00,213.30 C87.00,214.33 96.50,216.56 100.00,217.20 C103.50,217.84 102.00,217.19 103.00,217.17 C104.00,217.15 105.00,217.12 106.00,217.08 C107.00,217.05 108.00,217.00 109.00,216.96 C110.00,216.91 111.00,216.82 112.00,216.82 C113.00,216.82 114.00,216.89 115.00,216.95 C116.00,217.01 117.00,217.09 118.00,217.17 C119.00,217.25 119.83,217.33 121.00,217.44 C122.17,217.54 123.33,217.66 125.00,217.79 C126.67,217.92 128.83,218.10 131.00,218.24 C133.17,218.37 135.50,218.50 138.00,218.62 C140.50,218.73 143.00,218.83 146.00,218.92 C149.00,219.01 152.00,219.09 156.00,219.17 C160.00,219.24 161.83,219.30 170.00,219.37 C178.17,219.44 198.00,219.56 205.00,219.60 C212.00,219.64 209.83,219.60 212.00,219.60 C214.17,219.60 216.33,219.61 218.00,219.60 C219.67,219.59 220.83,219.58 222.00,219.54 C223.17,219.50 224.00,219.44 225.00,219.36 C226.00,219.29 227.12,219.16 228.00,219.10 C228.88,219.04 229.55,219.00 230.30,219.00 C231.05,219.00 231.63,219.03 232.50,219.09 C233.37,219.15 234.50,219.28 235.50,219.35 C236.50,219.43 237.25,219.49 238.50,219.54 C239.75,219.58 242.25,219.59 243.00,219.60" stroke="#a854b0"/>
<path d="M22.60,176.00 C22.73,175.67 23.08,173.83 23.40,174.00 C23.72,174.17 23.90,174.50 24.50,177.00 C25.10,179.50 26.08,185.78 27.00,189.00 C27.92,192.22 28.83,193.97 30.00,196.30 C31.17,198.63 32.52,201.02 34.00,203.00 C35.48,204.98 37.23,206.78 38.90,208.20 C40.57,209.62 42.27,210.67 44.00,211.50 C45.73,212.33 47.63,212.98 49.30,213.20 C50.97,213.42 52.27,213.02 54.00,212.80 C55.73,212.58 57.87,212.00 59.70,211.90 C61.53,211.80 63.28,212.08 65.00,212.20 C66.72,212.32 67.17,212.15 70.00,212.60 C72.83,213.05 77.00,213.97 82.00,214.90 C87.00,215.83 96.50,217.66 100.00,218.20 C103.50,218.74 102.00,218.17 103.00,218.13 C104.00,218.09 105.00,218.01 106.00,217.93 C107.00,217.85 108.00,217.75 109.00,217.66 C110.00,217.56 111.00,217.41 112.00,217.35 C113.00,217.29 114.00,217.31 115.00,217.32 C116.00,217.33 117.00,217.37 118.00,217.41 C119.00,217.45 119.83,217.50 121.00,217.58 C122.17,217.65 123.33,217.74 125.00,217.85 C126.67,217.96 128.83,218.12 131.00,218.25 C133.17,218.38 135.50,218.51 138.00,218.62 C140.50,218.73 143.00,218.83 146.00,218.92 C149.00,219.01 152.00,219.09 156.00,219.17 C160.00,219.24 161.83,219.30 170.00,219.37 C178.17,219.44 198.00,219.56 205.00,219.60 C212.00,219.64 209.83,219.60 212.00,219.60 C214.17,219.60 216.33,219.61 218.00,219.59 C219.67,219.57 220.83,219.55 222.00,219.46 C223.17,219.37 224.00,219.22 225.00,219.05 C226.00,218.87 227.12,218.57 228.00,218.42 C228.88,218.28 229.55,218.20 230.30,218.20 C231.05,218.20 231.63,218.27 232.50,218.41 C233.37,218.54 234.50,218.85 235.50,219.03 C236.50,219.20 237.25,219.35 238.50,219.45 C239.75,219.54 242.25,219.57 243.00,219.59" stroke="#44449c"/>
<path d="M22.80,110.00 C22.93,106.67 23.33,93.95 23.60,90.00 C23.87,86.05 24.13,86.30 24.40,86.30 C24.67,86.30 24.90,87.72 25.20,90.00 C25.50,92.28 25.75,96.67 26.20,100.00 C26.65,103.33 27.27,105.00 27.90,110.00 C28.53,115.00 29.30,123.33 30.00,130.00 C30.70,136.67 31.27,144.17 32.10,150.00 C32.93,155.83 34.02,160.67 35.00,165.00 C35.98,169.33 36.97,172.83 38.00,176.00 C39.03,179.17 39.72,181.97 41.20,184.00 C42.68,186.03 44.55,187.53 46.90,188.20 C49.25,188.87 52.87,188.48 55.30,188.00 C57.73,187.52 60.03,184.57 61.50,185.30 C62.97,186.03 61.60,190.33 64.10,192.40 C66.60,194.47 72.37,195.93 76.50,197.70 C80.63,199.47 84.98,201.53 88.90,203.00 C92.82,204.47 97.65,205.71 100.00,206.50 C102.35,207.29 102.00,207.27 103.00,207.75 C104.00,208.24 105.00,208.85 106.00,209.43 C107.00,210.01 108.00,210.65 109.00,211.21 C110.00,211.78 111.00,212.30 112.00,212.84 C113.00,213.38 114.00,213.97 115.00,214.46 C116.00,214.94 117.00,215.37 118.00,215.74 C119.00,216.11 119.83,216.39 121.00,216.68 C122.17,216.98 123.33,217.26 125.00,217.51 C126.67,217.76 128.83,218.01 131.00,218.19 C133.17,218.37 135.50,218.49 138.00,218.61 C140.50,218.73 143.00,218.83 146.00,218.92 C149.00,219.01 152.00,219.09 156.00,219.17 C160.00,219.24 161.83,219.30 170.00,219.37 C178.17,219.44 198.00,219.56 205.00,219.60 C212.00,219.64 209.83,219.60 212.00,219.60 C214.17,219.60 216.33,219.62 218.00,219.59 C219.67,219.56 220.83,219.53 222.00,219.42 C223.17,219.30 224.00,219.11 225.00,218.89 C226.00,218.67 227.12,218.27 228.00,218.09 C228.88,217.91 229.55,217.80 230.30,217.80 C231.05,217.80 231.63,217.89 232.50,218.07 C233.37,218.24 234.50,218.64 235.50,218.86 C236.50,219.09 237.25,219.28 238.50,219.41 C239.75,219.53 242.25,219.56 243.00,219.59" stroke="#5050ff"/>
<path d="M22.80,140.00 C23.08,128.33 23.97,84.17 24.50,70.00 C25.03,55.83 25.50,56.67 26.00,55.00 C26.50,53.33 26.83,57.17 27.50,60.00 C28.17,62.83 28.92,67.00 30.00,72.00 C31.08,77.00 32.58,83.67 34.00,90.00 C35.42,96.33 37.42,103.33 38.50,110.00 C39.58,116.67 39.78,123.95 40.50,130.00 C41.22,136.05 41.47,143.35 42.80,146.30 C44.13,149.25 46.62,146.88 48.50,147.70 C50.38,148.52 52.45,149.67 54.10,151.20 C55.75,152.73 56.75,154.77 58.40,156.90 C60.05,159.03 62.35,162.70 64.00,164.00 C65.65,165.30 66.63,165.03 68.30,164.70 C69.97,164.37 72.38,162.87 74.00,162.00 C75.62,161.13 76.83,160.00 78.00,159.50 C79.17,159.00 80.00,158.75 81.00,159.00 C82.00,159.25 83.00,159.67 84.00,161.00 C85.00,162.33 85.83,164.67 87.00,167.00 C88.17,169.33 89.50,172.33 91.00,175.00 C92.50,177.67 93.73,179.77 96.00,183.00 C98.27,186.23 101.93,190.90 104.60,194.40 C107.27,197.90 109.43,201.07 112.00,204.00 C114.57,206.93 116.17,209.70 120.00,212.00 C123.83,214.30 120.83,216.53 135.00,217.80 C149.17,219.07 192.17,219.30 205.00,219.60 C217.83,219.90 209.83,219.60 212.00,219.60 C214.17,219.60 216.33,219.61 218.00,219.60 C219.67,219.59 220.83,219.58 222.00,219.55 C223.17,219.52 224.00,219.46 225.00,219.40 C226.00,219.34 227.12,219.23 228.00,219.18 C228.88,219.13 229.55,219.10 230.30,219.10 C231.05,219.10 231.63,219.12 232.50,219.17 C233.37,219.22 234.50,219.33 235.50,219.40 C236.50,219.46 237.25,219.51 238.50,219.55 C239.75,219.58 242.25,219.59 243.00,219.60" stroke="#ff6262"/>
<path d="M22.80,172.00 C22.92,171.33 23.22,168.33 23.50,168.00 C23.78,167.67 23.92,168.50 24.50,170.00 C25.08,171.50 26.08,174.50 27.00,177.00 C27.92,179.50 28.83,182.00 30.00,185.00 C31.17,188.00 32.52,192.12 34.00,195.00 C35.48,197.88 37.23,200.38 38.90,202.30 C40.57,204.22 42.27,205.38 44.00,206.50 C45.73,207.62 46.97,208.42 49.30,209.00 C51.63,209.58 55.05,209.77 58.00,210.00 C60.95,210.23 63.00,209.83 67.00,210.40 C71.00,210.97 76.50,212.38 82.00,213.40 C87.50,214.42 93.67,215.60 100.00,216.50 C106.33,217.40 113.33,218.23 120.00,218.80 C126.67,219.37 133.33,219.67 140.00,219.90 C146.67,220.13 150.00,220.12 160.00,220.20 C170.00,220.28 178.50,220.37 200.00,220.40 C221.50,220.43 274.17,220.40 289.00,220.40" stroke="#44a044"/>
<path d="M128,219.45 C150,219.55 170,219.6 205,219.6 H243.5" stroke="#44449c"/>
</g>
<path d="M31.30,224.0v-1.6 M31.30,4.8v1.6 M40.22,224.0v-1.6 M40.22,4.8v1.6 M49.15,224.0v-1.6 M49.15,4.8v1.6 M58.08,224.0v-1.6 M58.08,4.8v1.6 M67.00,224.0v-1.6 M67.00,4.8v1.6 M75.93,224.0v-1.6 M75.93,4.8v1.6 M84.86,224.0v-1.6 M84.86,4.8v1.6 M93.79,224.0v-1.6 M93.79,4.8v1.6 M102.71,224.0v-1.6 M102.71,4.8v1.6 M111.64,224.0v-1.6 M111.64,4.8v1.6 M120.57,224.0v-1.6 M120.57,4.8v1.6 M129.49,224.0v-1.6 M129.49,4.8v1.6 M138.42,224.0v-1.6 M138.42,4.8v1.6 M147.35,224.0v-1.6 M147.35,4.8v1.6 M156.28,224.0v-1.6 M156.28,4.8v1.6 M165.20,224.0v-1.6 M165.20,4.8v1.6 M174.13,224.0v-1.6 M174.13,4.8v1.6 M183.06,224.0v-1.6 M183.06,4.8v1.6 M191.98,224.0v-1.6 M191.98,4.8v1.6 M200.91,224.0v-1.6 M200.91,4.8v1.6 M209.84,224.0v-1.6 M209.84,4.8v1.6 M218.76,224.0v-1.6 M218.76,4.8v1.6 M227.69,224.0v-1.6 M227.69,4.8v1.6 M236.62,224.0v-1.6 M236.62,4.8v1.6 M245.54,224.0v-1.6 M245.54,4.8v1.6 M254.47,224.0v-1.6 M254.47,4.8v1.6 M263.40,224.0v-1.6 M263.40,4.8v1.6 M272.33,224.0v-1.6 M272.33,4.8v1.6 M281.25,224.0v-1.6 M281.25,4.8v1.6 M290.18,224.0v-1.6 M290.18,4.8v1.6 M299.11,224.0v-1.6 M299.11,4.8v1.6 M22.4,220.10h1.6 M301.0,220.10h-1.6 M22.4,177.00h1.6 M301.0,177.00h-1.6 M22.4,133.90h1.6 M301.0,133.90h-1.6 M22.4,90.80h1.6 M301.0,90.80h-1.6 M22.4,47.70h1.6 M301.0,47.70h-1.6" stroke="#444" stroke-width="1.0" fill="none"/>
<path d="M22.4,4.8H301.0V224.0H22.4Z" stroke="#858585" stroke-width="1.25" fill="none"/>
<path d="M22.4,4.8V224.0H301.0" stroke="#6e6e6e" stroke-width="1.25" fill="none"/>
<text class="n" x="19.1" y="222.85" font-size="7.7" text-anchor="end">0</text>
<text class="n" x="19.1" y="179.75" font-size="7.7" text-anchor="end">1</text>
<text class="n" x="19.1" y="136.65" font-size="7.7" text-anchor="end">2</text>
<text class="n" x="19.1" y="93.55" font-size="7.7" text-anchor="end">3</text>
<text class="n" x="19.1" y="50.45" font-size="7.7" text-anchor="end">4</text>
<text class="n" x="19.1" y="7.35" font-size="7.7" text-anchor="end">5</text>
<text class="s" transform="translate(25.30,227.6) rotate(-90)" font-size="8.8" text-anchor="end">200</text>
<text class="s" transform="translate(44.07,227.6) rotate(-90)" font-size="8.8" text-anchor="end">242</text>
<text class="s" transform="translate(62.84,227.6) rotate(-90)" font-size="8.8" text-anchor="end">284</text>
<text class="s" transform="translate(81.61,227.6) rotate(-90)" font-size="8.8" text-anchor="end">326</text>
<text class="s" transform="translate(100.38,227.6) rotate(-90)" font-size="8.8" text-anchor="end">368</text>
<text class="s" transform="translate(119.15,227.6) rotate(-90)" font-size="8.8" text-anchor="end">410</text>
<text class="s" transform="translate(137.92,227.6) rotate(-90)" font-size="8.8" text-anchor="end">452</text>
<text class="s" transform="translate(156.69,227.6) rotate(-90)" font-size="8.8" text-anchor="end">494</text>
<text class="s" transform="translate(175.46,227.6) rotate(-90)" font-size="8.8" text-anchor="end">536</text>
<text class="s" transform="translate(194.23,227.6) rotate(-90)" font-size="8.8" text-anchor="end">578</text>
<text class="s" transform="translate(213.00,227.6) rotate(-90)" font-size="8.8" text-anchor="end">620</text>
<text class="s" transform="translate(231.77,227.6) rotate(-90)" font-size="8.8" text-anchor="end">662</text>
<text class="s" transform="translate(250.54,227.6) rotate(-90)" font-size="8.8" text-anchor="end">704</text>
<text class="s" transform="translate(269.31,227.6) rotate(-90)" font-size="8.8" text-anchor="end">746</text>
<text class="s" transform="translate(288.08,227.6) rotate(-90)" font-size="8.8" text-anchor="end">788</text>
<text class="s" x="161.6" y="253.6" font-size="8.9" text-anchor="middle">Spectral region (nm)</text>
<text class="s" x="161.3" y="278.4" font-size="13.3" text-anchor="middle">(a)</text>
<text class="s" transform="translate(8.4,114.5) rotate(-90)" font-size="8.8" text-anchor="middle">Absorbance (u.a)</text>
<path d="M308,22.60H321.8" stroke="#6a6aff" stroke-width="1.2"/>
<text class="s" x="325.4" y="25.60" font-size="8.8">Me1</text>
<path d="M308,32.91H321.8" stroke="#ff7a7a" stroke-width="1.2"/>
<text class="s" x="325.4" y="35.91" font-size="8.8">Me2</text>
<path d="M308,43.22H321.8" stroke="#6ab46a" stroke-width="1.2"/>
<text class="s" x="325.4" y="46.22" font-size="8.8">Eq1</text>
<path d="M308,53.53H321.8" stroke="#ff6aff" stroke-width="1.2"/>
<text class="s" x="325.4" y="56.53" font-size="8.8">Eq2</text>
<path d="M308,63.84H321.8" stroke="#606060" stroke-width="1.2"/>
<text class="s" x="325.4" y="66.84" font-size="8.8">Ur1</text>
<path d="M308,74.15H321.8" stroke="#c8c8c8" stroke-width="1.2"/>
<text class="s" x="325.4" y="77.15" font-size="8.8">Ur2</text>
<path d="M308,84.46H321.8" stroke="#b86a6a" stroke-width="1.2"/>
<text class="s" x="325.4" y="87.46" font-size="8.8">Hy1</text>
<path d="M308,94.77H321.8" stroke="#c0c070" stroke-width="1.2"/>
<text class="s" x="325.4" y="97.77" font-size="8.8">Hy2</text>
<path d="M308,105.08H321.8" stroke="#c07ac8" stroke-width="1.2"/>
<text class="s" x="325.4" y="108.08" font-size="8.8">Ta1</text>
<path d="M308,115.39H321.8" stroke="#7a7ac0" stroke-width="1.2"/>
<text class="s" x="325.4" y="118.39" font-size="8.8">Ta2</text>
<path d="M308,125.70H321.8" stroke="#6a6aff" stroke-width="1.2"/>
<text class="s" x="325.4" y="128.70" font-size="8.8">Ju1</text>
<path d="M308,136.01H321.8" stroke="#ff7a7a" stroke-width="1.2"/>
<text class="s" x="325.4" y="139.01" font-size="8.8">Ju2</text>
<path d="M308,146.32H321.8" stroke="#6ab46a" stroke-width="1.2"/>
<text class="s" x="325.4" y="149.32" font-size="8.8">Va1</text>
<path d="M308,156.63H321.8" stroke="#ff6aff" stroke-width="1.2"/>
<text class="s" x="325.4" y="159.63" font-size="8.8">Va2</text>
<path d="M308,166.94H321.8" stroke="#606060" stroke-width="1.2"/>
<text class="s" x="325.4" y="169.94" font-size="8.8">Ag1</text>
<path d="M308,177.25H321.8" stroke="#c8c8c8" stroke-width="1.2"/>
<text class="s" x="325.4" y="180.25" font-size="8.8">Ag2</text>
<path d="M308,187.56H321.8" stroke="#b86a6a" stroke-width="1.2"/>
<text class="s" x="325.4" y="190.56" font-size="8.8">Sa1</text>
<path d="M308,197.87H321.8" stroke="#c0c070" stroke-width="1.2"/>
<text class="s" x="325.4" y="200.87" font-size="8.8">Sa2</text>
<path d="M308,208.18H321.8" stroke="#c07ac8" stroke-width="1.2"/>
<text class="s" x="325.4" y="211.18" font-size="8.8">Ru1</text>
<path d="M308,218.49H321.8" stroke="#7a7ac0" stroke-width="1.2"/>
<text class="s" x="325.4" y="221.49" font-size="8.8">Ru2</text>
<path d="M308,228.80H321.8" stroke="#6a6aff" stroke-width="1.2"/>
<text class="s" x="325.4" y="231.80" font-size="8.8">Lq1</text>
<path d="M308,239.11H321.8" stroke="#ff7a7a" stroke-width="1.2"/>
<text class="s" x="325.4" y="242.11" font-size="8.8">Lq2</text>
<path d="M308,249.42H321.8" stroke="#6ab46a" stroke-width="1.2"/>
<text class="s" x="325.4" y="252.42" font-size="8.8">Sy1</text>
<path d="M392.34,10.0V230.0 M403.48,10.0V230.0 M414.62,10.0V230.0 M425.76,10.0V230.0 M436.90,10.0V230.0 M448.04,10.0V230.0 M459.18,10.0V230.0 M470.32,10.0V230.0 M481.46,10.0V230.0 M492.60,10.0V230.0 M503.74,10.0V230.0 M514.88,10.0V230.0 M526.02,10.0V230.0 M537.16,10.0V230.0 M548.30,10.0V230.0 M559.44,10.0V230.0 M570.58,10.0V230.0 M581.72,10.0V230.0 M592.86,10.0V230.0 M604.00,10.0V230.0 M615.14,10.0V230.0 M626.28,10.0V230.0 M637.42,10.0V230.0 M380.7,219.40H648.0 M380.7,167.05H648.0 M380.7,114.70H648.0 M380.7,62.35H648.0" stroke="#efefef" stroke-width="0.8" fill="none"/>
<g clip-path="url(#clipR)" fill="none" stroke-width="0.9" stroke-linejoin="round">
<path d="M398.69,12.30 C398.85,13.58 399.28,17.05 399.65,20.00 C400.02,22.95 400.47,26.67 400.90,30.00 C401.32,33.33 401.66,35.83 402.20,40.00 C402.74,44.17 403.61,50.33 404.15,55.00 C404.69,59.67 404.95,63.00 405.45,68.00 C405.95,73.00 406.60,79.67 407.14,85.00 C407.68,90.33 408.18,95.00 408.70,100.00 C409.22,105.00 409.72,110.00 410.26,115.00 C410.80,120.00 411.13,124.17 411.95,130.00 C412.77,135.83 414.23,145.00 415.20,150.00 C416.17,155.00 416.82,156.67 417.80,160.00 C418.77,163.33 419.92,166.26 421.05,170.00 C422.17,173.74 423.22,178.63 424.55,182.45 C425.88,186.27 427.47,190.03 429.05,192.90 C430.63,195.78 431.38,197.60 434.05,199.70 C436.72,201.80 439.06,203.90 445.05,205.50 C451.04,207.10 462.51,208.58 470.00,209.32 C477.49,210.05 484.17,209.71 490.00,209.90 C495.83,210.09 500.00,210.27 505.00,210.45 C510.00,210.63 516.83,210.87 520.00,210.98 C523.17,211.09 522.67,211.07 524.00,211.11 C525.33,211.14 526.67,211.18 528.00,211.20 C529.33,211.22 530.67,211.24 532.00,211.23 C533.33,211.21 534.67,211.19 536.00,211.11 C537.33,211.03 538.83,210.89 540.00,210.75 C541.17,210.61 542.00,210.54 543.00,210.28 C544.00,210.02 545.00,209.51 546.00,209.19 C547.00,208.87 548.00,208.83 549.00,208.34 C550.00,207.84 551.00,207.36 552.00,206.22 C553.00,205.08 554.00,203.71 555.00,201.50 C556.00,199.28 557.08,195.95 558.00,192.91 C558.92,189.87 559.75,186.17 560.50,183.26 C561.25,180.35 561.83,177.76 562.50,175.47 C563.17,173.18 563.83,170.92 564.50,169.53 C565.17,168.14 565.83,167.21 566.50,167.12 C567.17,167.04 567.83,167.76 568.50,169.04 C569.17,170.33 569.75,172.14 570.50,174.84 C571.25,177.54 572.08,181.41 573.00,185.23 C573.92,189.04 575.00,194.14 576.00,197.73 C577.00,201.32 578.00,204.40 579.00,206.78 C580.00,209.16 580.83,210.57 582.00,212.01 C583.17,213.45 584.67,214.55 586.00,215.41 C587.33,216.28 588.50,216.65 590.00,217.20 C591.50,217.75 593.17,218.37 595.00,218.71 C596.83,219.05 598.50,219.12 601.00,219.24 C603.50,219.35 606.00,219.35 610.00,219.38 C614.00,219.41 619.17,219.40 625.00,219.40 C630.83,219.40 641.67,219.40 645.00,219.40" stroke="#5050ff"/>
<path d="M402.57,13.60 C402.65,14.67 402.85,17.27 403.05,20.00 C403.25,22.73 403.46,26.67 403.80,30.00 C404.14,33.33 404.54,35.83 405.07,40.00 C405.61,44.17 406.46,50.33 406.99,55.00 C407.52,59.67 407.77,63.00 408.26,68.00 C408.75,73.00 409.39,79.67 409.92,85.00 C410.45,90.33 410.94,95.00 411.45,100.00 C411.96,105.00 412.45,110.00 412.98,115.00 C413.51,120.00 413.83,124.17 414.64,130.00 C415.44,135.83 416.87,145.00 417.82,150.00 C418.78,155.00 419.42,156.67 420.37,160.00 C421.33,163.33 422.45,166.31 423.56,170.00 C424.67,173.69 425.73,178.43 427.06,182.15 C428.39,185.87 429.98,189.51 431.56,192.30 C433.14,195.09 433.89,196.87 436.56,198.90 C439.23,200.93 441.99,203.06 447.56,204.50 C453.13,205.94 462.93,206.88 470.00,207.53 C477.07,208.18 484.17,208.12 490.00,208.40 C495.83,208.68 500.00,208.95 505.00,209.22 C510.00,209.49 516.83,209.86 520.00,210.03 C523.17,210.20 522.67,210.17 524.00,210.24 C525.33,210.31 526.67,210.38 528.00,210.44 C529.33,210.50 530.67,210.56 532.00,210.61 C533.33,210.66 534.67,210.70 536.00,210.72 C537.33,210.74 538.83,210.75 540.00,210.74 C541.17,210.73 542.00,210.72 543.00,210.67 C544.00,210.61 545.00,210.46 546.00,210.41 C547.00,210.35 548.00,210.46 549.00,210.36 C550.00,210.25 551.00,210.16 552.00,209.79 C553.00,209.43 554.00,208.98 555.00,208.18 C556.00,207.38 557.08,206.15 558.00,205.01 C558.92,203.88 559.75,202.46 560.50,201.36 C561.25,200.26 561.83,199.27 562.50,198.41 C563.17,197.56 563.83,196.71 564.50,196.22 C565.17,195.72 565.83,195.41 566.50,195.44 C567.17,195.47 567.83,195.83 568.50,196.41 C569.17,196.99 569.75,197.78 570.50,198.94 C571.25,200.10 572.08,201.75 573.00,203.38 C573.92,205.00 575.00,207.16 576.00,208.71 C577.00,210.26 578.00,211.59 579.00,212.65 C580.00,213.71 580.83,214.36 582.00,215.05 C583.17,215.75 584.67,216.34 586.00,216.82 C587.33,217.30 588.50,217.56 590.00,217.93 C591.50,218.30 593.17,218.79 595.00,219.02 C596.83,219.26 598.50,219.27 601.00,219.33 C603.50,219.40 606.00,219.38 610.00,219.39 C614.00,219.40 619.17,219.40 625.00,219.40 C630.83,219.40 641.67,219.40 645.00,219.40" stroke="#ff6262"/>
<path d="M381.00,-5.00 C381.38,-2.50 382.47,4.50 383.30,10.00 C384.13,15.50 385.05,22.17 386.00,28.00 C386.95,33.83 388.00,40.00 389.00,45.00 C390.00,50.00 391.00,54.17 392.00,58.00 C393.00,61.83 393.83,63.50 395.00,68.00 C396.17,72.50 397.50,79.67 399.00,85.00 C400.50,90.33 402.20,94.17 404.00,100.00 C405.80,105.83 407.95,113.97 409.80,120.00 C411.65,126.03 413.53,131.20 415.10,136.20 C416.67,141.20 417.80,145.20 419.20,150.00 C420.60,154.80 422.13,159.90 423.50,165.00 C424.87,170.10 426.15,176.77 427.40,180.60 C428.65,184.43 429.53,185.65 431.00,188.00 C432.47,190.35 433.57,192.55 436.20,194.70 C438.83,196.85 442.00,199.13 446.80,200.90 C451.60,202.67 461.13,204.34 465.00,205.30 C468.87,206.26 465.83,206.32 470.00,206.67 C474.17,207.02 484.17,207.17 490.00,207.40 C495.83,207.63 500.00,207.86 505.00,208.08 C510.00,208.31 516.83,208.62 520.00,208.76 C523.17,208.90 522.67,208.87 524.00,208.92 C525.33,208.98 526.67,209.03 528.00,209.07 C529.33,209.11 530.67,209.16 532.00,209.17 C533.33,209.19 534.67,209.21 536.00,209.18 C537.33,209.16 538.83,209.09 540.00,209.03 C541.17,208.96 542.00,208.92 543.00,208.78 C544.00,208.64 545.00,208.33 546.00,208.19 C547.00,208.04 548.00,208.12 549.00,207.88 C550.00,207.64 551.00,207.41 552.00,206.74 C553.00,206.07 554.00,205.25 555.00,203.86 C556.00,202.47 557.08,200.35 558.00,198.41 C558.92,196.46 559.75,194.07 560.50,192.20 C561.25,190.33 561.83,188.65 562.50,187.19 C563.17,185.72 563.83,184.28 564.50,183.41 C565.17,182.54 565.83,181.98 566.50,181.99 C567.17,181.99 567.83,182.52 568.50,183.44 C569.17,184.35 569.75,185.61 570.50,187.48 C571.25,189.34 572.08,191.99 573.00,194.61 C573.92,197.24 575.00,200.72 576.00,203.20 C577.00,205.68 578.00,207.82 579.00,209.49 C580.00,211.17 580.83,212.18 582.00,213.24 C583.17,214.30 584.67,215.17 586.00,215.86 C587.33,216.56 588.50,216.91 590.00,217.41 C591.50,217.90 593.17,218.54 595.00,218.85 C596.83,219.16 598.50,219.20 601.00,219.29 C603.50,219.38 606.00,219.37 610.00,219.39 C614.00,219.41 619.17,219.40 625.00,219.40 C630.83,219.40 641.67,219.40 645.00,219.40" stroke="#44a044"/>
<path d="M388.00,-5.00 C388.45,-2.50 389.62,3.33 390.70,10.00 C391.78,16.67 393.43,26.95 394.50,35.00 C395.57,43.05 396.35,50.80 397.10,58.30 C397.85,65.80 398.40,73.05 399.00,80.00 C399.60,86.95 400.07,93.33 400.70,100.00 C401.33,106.67 402.00,113.33 402.80,120.00 C403.60,126.67 404.68,135.00 405.50,140.00 C406.32,145.00 406.87,147.17 407.70,150.00 C408.53,152.83 409.48,154.88 410.50,157.00 C411.52,159.12 412.47,160.53 413.80,162.70 C415.13,164.87 416.97,167.02 418.50,170.00 C420.03,172.98 421.82,177.65 423.00,180.60 C424.18,183.55 424.43,185.35 425.60,187.70 C426.77,190.05 428.23,192.65 430.00,194.70 C431.77,196.75 433.40,198.23 436.20,200.00 C439.00,201.77 442.00,203.53 446.80,205.30 C451.60,207.07 461.13,209.70 465.00,210.60 C468.87,211.50 465.83,210.54 470.00,210.67 C474.17,210.81 484.17,211.17 490.00,211.40 C495.83,211.63 500.00,211.86 505.00,212.08 C510.00,212.31 516.83,212.62 520.00,212.76 C523.17,212.90 522.67,212.88 524.00,212.94 C525.33,212.99 526.67,213.05 528.00,213.10 C529.33,213.15 530.67,213.20 532.00,213.25 C533.33,213.29 534.67,213.33 536.00,213.35 C537.33,213.37 538.83,213.37 540.00,213.37 C541.17,213.36 542.00,213.36 543.00,213.32 C544.00,213.28 545.00,213.16 546.00,213.11 C547.00,213.06 548.00,213.12 549.00,213.02 C550.00,212.93 551.00,212.83 552.00,212.54 C553.00,212.24 554.00,211.87 555.00,211.23 C556.00,210.59 557.08,209.60 558.00,208.70 C558.92,207.79 559.75,206.67 560.50,205.80 C561.25,204.93 561.83,204.14 562.50,203.46 C563.17,202.77 563.83,202.10 564.50,201.70 C565.17,201.30 565.83,201.05 566.50,201.07 C567.17,201.08 567.83,201.35 568.50,201.79 C569.17,202.24 569.75,202.85 570.50,203.75 C571.25,204.65 572.08,205.92 573.00,207.19 C573.92,208.45 575.00,210.13 576.00,211.32 C577.00,212.52 578.00,213.55 579.00,214.37 C580.00,215.18 580.83,215.68 582.00,216.20 C583.17,216.73 584.67,217.17 586.00,217.53 C587.33,217.88 588.50,218.07 590.00,218.34 C591.50,218.60 593.17,218.95 595.00,219.12 C596.83,219.29 598.50,219.30 601.00,219.35 C603.50,219.39 606.00,219.39 610.00,219.39 C614.00,219.40 619.17,219.40 625.00,219.40 C630.83,219.40 641.67,219.40 645.00,219.40" stroke="#ff58ff"/>
<path d="M381.00,-5.00 C381.38,-2.50 382.47,6.17 383.30,10.00 C384.13,13.83 385.12,15.50 386.00,18.00 C386.88,20.50 387.43,22.17 388.60,25.00 C389.77,27.83 391.60,32.08 393.00,35.00 C394.40,37.92 395.72,40.50 397.00,42.50 C398.28,44.50 399.37,47.08 400.70,47.00 C402.03,46.92 403.60,43.77 405.00,42.00 C406.40,40.23 407.77,37.63 409.10,36.40 C410.43,35.17 411.82,34.92 413.00,34.60 C414.18,34.28 415.20,34.08 416.20,34.50 C417.20,34.92 418.28,35.73 419.00,37.10 C419.72,38.47 420.00,39.72 420.50,42.70 C421.00,45.68 421.50,50.32 422.00,55.00 C422.50,59.68 422.92,65.80 423.50,70.80 C424.08,75.80 424.83,80.80 425.50,85.00 C426.17,89.20 426.78,92.72 427.50,96.00 C428.22,99.28 428.88,102.03 429.80,104.70 C430.72,107.37 431.80,109.95 433.00,112.00 C434.20,114.05 435.77,115.73 437.00,117.00 C438.23,118.27 439.15,118.43 440.40,119.60 C441.65,120.77 443.08,122.23 444.50,124.00 C445.92,125.77 447.60,127.78 448.90,130.20 C450.20,132.62 451.28,135.20 452.30,138.50 C453.32,141.80 454.25,146.42 455.00,150.00 C455.75,153.58 456.22,156.33 456.80,160.00 C457.38,163.67 457.80,168.50 458.50,172.00 C459.20,175.50 459.97,178.15 461.00,181.00 C462.03,183.85 462.90,186.72 464.70,189.10 C466.50,191.48 469.15,193.08 471.80,195.30 C474.45,197.52 478.25,201.07 480.60,202.40 C482.95,203.73 484.33,203.37 485.90,203.30 C487.47,203.23 488.32,201.92 490.00,202.00 C491.68,202.08 493.50,203.38 496.00,203.80 C498.50,204.22 501.53,204.60 505.00,204.50 C508.47,204.40 514.30,203.63 516.80,203.20 C519.30,202.77 518.80,202.40 520.00,201.92 C521.20,201.43 522.67,200.84 524.00,200.30 C525.33,199.77 526.67,199.20 528.00,198.69 C529.33,198.18 530.67,197.61 532.00,197.23 C533.33,196.84 534.67,196.40 536.00,196.37 C537.33,196.35 538.83,196.88 540.00,197.06 C541.17,197.24 542.00,197.53 543.00,197.44 C544.00,197.35 545.00,196.79 546.00,196.52 C547.00,196.26 548.00,196.37 549.00,195.86 C550.00,195.34 551.00,194.84 552.00,193.43 C553.00,192.01 554.00,190.28 555.00,187.37 C556.00,184.45 557.08,180.01 558.00,175.93 C558.92,171.86 559.75,166.85 560.50,162.93 C561.25,159.01 561.83,155.49 562.50,152.42 C563.17,149.35 563.83,146.33 564.50,144.51 C565.17,142.69 565.83,141.50 566.50,141.50 C567.17,141.50 567.83,142.61 568.50,144.52 C569.17,146.42 569.75,149.05 570.50,152.94 C571.25,156.82 572.08,162.36 573.00,167.83 C573.92,173.30 575.00,180.58 576.00,185.76 C577.00,190.93 578.00,195.39 579.00,198.88 C580.00,202.37 580.83,204.48 582.00,206.68 C583.17,208.89 584.67,210.68 586.00,212.11 C587.33,213.55 588.50,214.27 590.00,215.30 C591.50,216.32 593.17,217.61 595.00,218.26 C596.83,218.91 598.50,218.99 601.00,219.17 C603.50,219.36 606.00,219.34 610.00,219.37 C614.00,219.41 619.17,219.40 625.00,219.40 C630.83,219.40 641.67,219.40 645.00,219.40" stroke="#444444"/>
<path d="M381.00,-5.00 C381.33,-2.50 382.17,5.00 383.00,10.00 C383.83,15.00 384.92,19.67 386.00,25.00 C387.08,30.33 388.18,36.17 389.50,42.00 C390.82,47.83 392.73,55.00 393.90,60.00 C395.07,65.00 395.62,68.47 396.50,72.00 C397.38,75.53 397.95,78.37 399.20,81.20 C400.45,84.03 402.23,86.53 404.00,89.00 C405.77,91.47 407.80,93.33 409.80,96.00 C411.80,98.67 413.70,101.00 416.00,105.00 C418.30,109.00 421.27,114.80 423.60,120.00 C425.93,125.20 427.87,132.08 430.00,136.20 C432.13,140.32 433.93,142.40 436.40,144.70 C438.87,147.00 442.52,147.88 444.80,150.00 C447.08,152.12 448.65,154.40 450.10,157.40 C451.55,160.40 452.52,164.23 453.50,168.00 C454.48,171.77 455.20,176.67 456.00,180.00 C456.80,183.33 457.33,185.00 458.30,188.00 C459.27,191.00 460.52,195.42 461.80,198.00 C463.08,200.58 464.30,202.25 466.00,203.50 C467.70,204.75 469.67,205.08 472.00,205.50 C474.33,205.92 475.33,205.83 480.00,206.00 C484.67,206.17 493.33,206.34 500.00,206.50 C506.67,206.66 516.00,206.89 520.00,206.95 C524.00,207.00 522.67,206.90 524.00,206.82 C525.33,206.74 526.67,206.60 528.00,206.47 C529.33,206.35 530.67,206.24 532.00,206.07 C533.33,205.90 534.67,205.74 536.00,205.46 C537.33,205.18 538.83,204.72 540.00,204.38 C541.17,204.04 542.00,203.89 543.00,203.41 C544.00,202.94 545.00,201.86 546.00,201.52 C547.00,201.19 548.00,201.62 549.00,201.41 C550.00,201.20 551.00,201.00 552.00,200.27 C553.00,199.54 554.00,198.63 555.00,197.02 C556.00,195.42 557.08,192.93 558.00,190.65 C558.92,188.36 559.75,185.52 560.50,183.31 C561.25,181.10 561.83,179.11 562.50,177.39 C563.17,175.66 563.83,173.96 564.50,172.97 C565.17,171.97 565.83,171.34 566.50,171.40 C567.17,171.46 567.83,172.17 568.50,173.34 C569.17,174.51 569.75,176.09 570.50,178.42 C571.25,180.74 572.08,184.04 573.00,187.31 C573.92,190.57 575.00,194.91 576.00,198.01 C577.00,201.11 578.00,203.79 579.00,205.91 C580.00,208.03 580.83,209.33 582.00,210.72 C583.17,212.11 584.67,213.29 586.00,214.25 C587.33,215.21 588.50,215.73 590.00,216.47 C591.50,217.20 593.17,218.18 595.00,218.65 C596.83,219.11 598.50,219.14 601.00,219.27 C603.50,219.39 606.00,219.36 610.00,219.39 C614.00,219.41 619.17,219.40 625.00,219.40 C630.83,219.40 641.67,219.40 645.00,219.40" stroke="#b4b4b4"/>
<path d="M413.28,19.10 C413.32,19.60 413.37,20.28 413.51,22.10 C413.64,23.92 413.80,27.02 414.10,30.00 C414.40,32.98 414.79,35.83 415.29,40.00 C415.78,44.17 416.57,50.33 417.06,55.00 C417.56,59.67 417.79,63.00 418.25,68.00 C418.70,73.00 419.30,79.67 419.79,85.00 C420.28,90.33 420.74,95.00 421.21,100.00 C421.69,105.00 422.14,110.00 422.64,115.00 C423.13,120.00 423.43,124.17 424.18,130.00 C424.93,135.83 426.25,145.00 427.14,150.00 C428.03,155.00 428.62,156.67 429.51,160.00 C430.40,163.33 431.31,166.50 432.48,170.00 C433.64,173.50 434.98,177.83 436.48,181.00 C437.98,184.17 439.42,186.90 441.48,189.00 C443.53,191.10 446.70,192.90 448.80,193.60 C450.90,194.30 452.57,192.80 454.10,193.20 C455.63,193.60 456.52,194.77 458.00,196.00 C459.48,197.23 461.00,199.27 463.00,200.60 C465.00,201.93 467.17,203.18 470.00,204.00 C472.83,204.82 477.50,205.28 480.00,205.50 C482.50,205.72 483.33,205.88 485.00,205.30 C486.67,204.72 488.27,203.45 490.00,202.00 C491.73,200.55 493.90,197.02 495.40,196.60 C496.90,196.18 497.58,197.85 499.00,199.50 C500.42,201.15 502.40,205.58 503.90,206.50 C505.40,207.42 506.65,206.00 508.00,205.00 C509.35,204.00 510.80,201.90 512.00,200.50 C513.20,199.10 513.87,198.95 515.20,196.60 C516.53,194.25 518.53,187.97 520.00,186.40 C521.47,184.83 522.67,183.99 524.00,187.16 C525.33,190.34 526.67,201.43 528.00,205.44 C529.33,209.45 530.67,209.99 532.00,211.24 C533.33,212.49 534.67,212.60 536.00,212.94 C537.33,213.28 538.83,213.18 540.00,213.27 C541.17,213.37 542.00,213.43 543.00,213.50 C544.00,213.57 545.00,213.63 546.00,213.69 C547.00,213.74 548.00,213.81 549.00,213.82 C550.00,213.84 551.00,213.86 552.00,213.78 C553.00,213.71 554.00,213.60 555.00,213.37 C556.00,213.14 557.08,212.77 558.00,212.41 C558.92,212.06 559.75,211.61 560.50,211.27 C561.25,210.92 561.83,210.60 562.50,210.34 C563.17,210.07 563.83,209.81 564.50,209.67 C565.17,209.53 565.83,209.45 566.50,209.50 C567.17,209.55 567.83,209.70 568.50,209.94 C569.17,210.18 569.75,210.49 570.50,210.93 C571.25,211.38 572.08,211.99 573.00,212.61 C573.92,213.23 575.00,214.04 576.00,214.63 C577.00,215.22 578.00,215.74 579.00,216.17 C580.00,216.59 580.83,216.86 582.00,217.16 C583.17,217.46 584.67,217.75 586.00,217.98 C587.33,218.22 588.50,218.37 590.00,218.58 C591.50,218.78 593.17,219.08 595.00,219.22 C596.83,219.35 598.50,219.35 601.00,219.38 C603.50,219.41 606.00,219.39 610.00,219.40 C614.00,219.40 619.17,219.40 625.00,219.40 C630.83,219.40 641.67,219.40 645.00,219.40" stroke="#a84444"/>
<path d="M409.82,14.80 C409.85,15.67 409.91,17.47 409.99,20.00 C410.07,22.53 410.04,26.67 410.30,30.00 C410.56,33.33 411.01,35.83 411.52,40.00 C412.03,44.17 412.84,50.33 413.35,55.00 C413.85,59.67 414.10,63.00 414.56,68.00 C415.03,73.00 415.64,79.67 416.15,85.00 C416.66,90.33 417.12,95.00 417.61,100.00 C418.10,105.00 418.57,110.00 419.07,115.00 C419.58,120.00 419.89,124.17 420.66,130.00 C421.43,135.83 422.79,145.00 423.70,150.00 C424.62,155.00 425.23,156.67 426.14,160.00 C427.05,163.33 428.10,166.33 429.19,170.00 C430.28,173.67 431.35,178.33 432.69,182.00 C434.02,185.67 435.60,189.17 437.19,192.00 C438.77,194.83 440.88,196.67 442.19,199.00 C443.49,201.33 442.86,204.25 445.00,206.00 C447.14,207.75 450.83,208.53 455.00,209.50 C459.17,210.47 465.00,211.45 470.00,211.80 C475.00,212.15 481.62,212.33 485.00,211.60 C488.38,210.87 488.63,207.92 490.30,207.40 C491.97,206.88 493.23,208.15 495.00,208.50 C496.77,208.85 498.95,209.58 500.90,209.50 C502.85,209.42 504.85,208.75 506.70,208.00 C508.55,207.25 510.32,206.08 512.00,205.00 C513.68,203.92 515.47,202.83 516.80,201.50 C518.13,200.17 518.80,197.61 520.00,197.00 C521.20,196.39 522.67,195.54 524.00,197.82 C525.33,200.10 526.67,208.20 528.00,210.69 C529.33,213.18 530.67,212.35 532.00,212.77 C533.33,213.20 534.67,213.09 536.00,213.24 C537.33,213.39 538.83,213.60 540.00,213.67 C541.17,213.75 542.00,213.70 543.00,213.70 C544.00,213.70 545.00,213.67 546.00,213.69 C547.00,213.71 548.00,213.81 549.00,213.82 C550.00,213.84 551.00,213.86 552.00,213.78 C553.00,213.71 554.00,213.60 555.00,213.37 C556.00,213.14 557.08,212.77 558.00,212.41 C558.92,212.06 559.75,211.61 560.50,211.27 C561.25,210.92 561.83,210.60 562.50,210.34 C563.17,210.07 563.83,209.81 564.50,209.67 C565.17,209.53 565.83,209.45 566.50,209.50 C567.17,209.55 567.83,209.70 568.50,209.94 C569.17,210.18 569.75,210.49 570.50,210.93 C571.25,211.38 572.08,211.99 573.00,212.61 C573.92,213.23 575.00,214.04 576.00,214.63 C577.00,215.22 578.00,215.74 579.00,216.17 C580.00,216.59 580.83,216.86 582.00,217.16 C583.17,217.46 584.67,217.75 586.00,217.98 C587.33,218.22 588.50,218.37 590.00,218.58 C591.50,218.78 593.17,219.08 595.00,219.22 C596.83,219.35 598.50,219.35 601.00,219.38 C603.50,219.41 606.00,219.39 610.00,219.40 C614.00,219.40 619.17,219.40 625.00,219.40 C630.83,219.40 641.67,219.40 645.00,219.40" stroke="#acac48"/>
<path d="M381.50,92.00 C381.53,93.33 381.60,96.17 381.70,100.00 C381.80,103.83 381.82,109.17 382.10,115.00 C382.38,120.83 382.83,128.33 383.40,135.00 C383.97,141.67 384.63,148.83 385.50,155.00 C386.37,161.17 387.68,167.00 388.60,172.00 C389.52,177.00 389.93,181.00 391.00,185.00 C392.07,189.00 393.50,193.00 395.00,196.00 C396.50,199.00 398.23,201.15 400.00,203.00 C401.77,204.85 403.10,205.77 405.60,207.10 C408.10,208.43 411.77,209.85 415.00,211.00 C418.23,212.15 421.17,213.17 425.00,214.00 C428.83,214.83 432.17,215.42 438.00,216.00 C443.83,216.58 449.67,217.12 460.00,217.50 C470.33,217.88 490.00,218.15 500.00,218.30 C510.00,218.45 516.00,218.37 520.00,218.39 C524.00,218.41 522.67,218.40 524.00,218.41 C525.33,218.41 526.67,218.42 528.00,218.42 C529.33,218.43 530.67,218.43 532.00,218.44 C533.33,218.44 534.67,218.44 536.00,218.44 C537.33,218.45 538.83,218.45 540.00,218.45 C541.17,218.45 542.00,218.45 543.00,218.44 C544.00,218.43 545.00,218.40 546.00,218.39 C547.00,218.38 548.00,218.40 549.00,218.40 C550.00,218.40 551.00,218.39 552.00,218.37 C553.00,218.34 554.00,218.30 555.00,218.24 C556.00,218.18 557.08,218.08 558.00,217.98 C558.92,217.89 559.75,217.77 560.50,217.68 C561.25,217.59 561.83,217.51 562.50,217.44 C563.17,217.37 563.83,217.30 564.50,217.26 C565.17,217.22 565.83,217.19 566.50,217.20 C567.17,217.21 567.83,217.24 568.50,217.29 C569.17,217.35 569.75,217.42 570.50,217.52 C571.25,217.62 572.08,217.77 573.00,217.91 C573.92,218.06 575.00,218.25 576.00,218.39 C577.00,218.52 578.00,218.64 579.00,218.74 C580.00,218.83 580.83,218.89 582.00,218.96 C583.17,219.03 584.67,219.08 586.00,219.13 C587.33,219.18 588.50,219.21 590.00,219.24 C591.50,219.28 593.17,219.34 595.00,219.36 C596.83,219.39 598.50,219.39 601.00,219.39 C603.50,219.40 606.00,219.40 610.00,219.40 C614.00,219.40 619.17,219.40 625.00,219.40 C630.83,219.40 641.67,219.40 645.00,219.40" stroke="#a854b0"/>
<path d="M401.60,11.00 C401.67,12.50 401.85,16.83 402.00,20.00 C402.15,23.17 402.28,25.83 402.50,30.00 C402.72,34.17 402.78,40.00 403.30,45.00 C403.82,50.00 404.90,56.33 405.60,60.00 C406.30,63.67 406.80,65.05 407.50,67.00 C408.20,68.95 408.88,70.62 409.80,71.70 C410.72,72.78 411.93,72.98 413.00,73.50 C414.07,74.02 415.37,74.05 416.20,74.80 C417.03,75.55 417.48,76.58 418.00,78.00 C418.52,79.42 418.88,80.97 419.30,83.30 C419.72,85.63 420.13,88.82 420.50,92.00 C420.87,95.18 421.08,97.73 421.50,102.40 C421.92,107.07 422.33,113.73 423.00,120.00 C423.67,126.27 424.50,133.33 425.50,140.00 C426.50,146.67 427.52,155.00 429.00,160.00 C430.48,165.00 432.57,166.67 434.40,170.00 C436.23,173.33 437.93,177.05 440.00,180.00 C442.07,182.95 444.30,185.20 446.80,187.70 C449.30,190.20 451.97,192.78 455.00,195.00 C458.03,197.22 462.50,198.75 465.00,201.00 C467.50,203.25 465.83,207.13 470.00,208.53 C474.17,209.93 484.17,209.12 490.00,209.40 C495.83,209.68 500.00,209.95 505.00,210.22 C510.00,210.49 516.83,210.86 520.00,211.03 C523.17,211.20 522.67,211.17 524.00,211.24 C525.33,211.31 526.67,211.38 528.00,211.44 C529.33,211.50 530.67,211.56 532.00,211.60 C533.33,211.65 534.67,211.69 536.00,211.70 C537.33,211.72 538.83,211.71 540.00,211.69 C541.17,211.68 542.00,211.67 543.00,211.60 C544.00,211.53 545.00,211.34 546.00,211.26 C547.00,211.18 548.00,211.24 549.00,211.09 C550.00,210.94 551.00,210.80 552.00,210.36 C553.00,209.92 554.00,209.38 555.00,208.46 C556.00,207.54 557.08,206.13 558.00,204.84 C558.92,203.54 559.75,201.95 560.50,200.70 C561.25,199.45 561.83,198.33 562.50,197.36 C563.17,196.38 563.83,195.42 564.50,194.84 C565.17,194.27 565.83,193.90 566.50,193.91 C567.17,193.92 567.83,194.29 568.50,194.91 C569.17,195.53 569.75,196.39 570.50,197.65 C571.25,198.91 572.08,200.70 573.00,202.47 C573.92,204.24 575.00,206.60 576.00,208.28 C577.00,209.96 578.00,211.40 579.00,212.54 C580.00,213.68 580.83,214.37 582.00,215.09 C583.17,215.82 584.67,216.42 586.00,216.90 C587.33,217.38 588.50,217.63 590.00,217.99 C591.50,218.34 593.17,218.79 595.00,219.02 C596.83,219.24 598.50,219.26 601.00,219.33 C603.50,219.39 606.00,219.38 610.00,219.39 C614.00,219.40 619.17,219.40 625.00,219.40 C630.83,219.40 641.67,219.40 645.00,219.40" stroke="#44449c"/>
<path d="M420.80,10.50 C420.78,12.08 420.75,16.75 420.70,20.00 C420.65,23.25 420.20,25.00 420.50,30.00 C420.80,35.00 421.82,43.67 422.50,50.00 C423.18,56.33 424.10,62.17 424.60,68.00 C425.10,73.83 425.22,79.67 425.50,85.00 C425.78,90.33 425.97,95.00 426.30,100.00 C426.63,105.00 427.07,109.70 427.50,115.00 C427.93,120.30 428.32,126.97 428.90,131.80 C429.48,136.63 430.12,140.03 431.00,144.00 C431.88,147.97 433.03,151.27 434.20,155.60 C435.37,159.93 436.48,165.83 438.00,170.00 C439.52,174.17 441.25,177.07 443.30,180.60 C445.35,184.13 448.35,188.72 450.30,191.20 C452.25,193.68 453.52,194.17 455.00,195.50 C456.48,196.83 457.53,198.30 459.20,199.20 C460.87,200.10 462.90,200.07 465.00,200.90 C467.10,201.73 469.97,203.77 471.80,204.20 C473.63,204.63 474.47,203.28 476.00,203.50 C477.53,203.72 478.67,204.65 481.00,205.50 C483.33,206.35 486.00,207.85 490.00,208.60 C494.00,209.35 500.00,209.60 505.00,210.00 C510.00,210.40 516.83,210.85 520.00,210.99 C523.17,211.13 522.67,210.89 524.00,210.83 C525.33,210.77 526.67,210.70 528.00,210.64 C529.33,210.59 530.67,210.41 532.00,210.49 C533.33,210.57 534.67,211.07 536.00,211.13 C537.33,211.20 538.83,211.07 540.00,210.89 C541.17,210.70 542.00,210.34 543.00,210.00 C544.00,209.66 545.00,209.17 546.00,208.85 C547.00,208.53 548.00,208.53 549.00,208.06 C550.00,207.59 551.00,207.13 552.00,206.04 C553.00,204.94 554.00,203.62 555.00,201.48 C556.00,199.34 557.08,196.11 558.00,193.17 C558.92,190.23 559.75,186.64 560.50,183.82 C561.25,181.00 561.83,178.48 562.50,176.26 C563.17,174.05 563.83,171.86 564.50,170.52 C565.17,169.17 565.83,168.27 566.50,168.20 C567.17,168.13 567.83,168.83 568.50,170.09 C569.17,171.35 569.75,173.12 570.50,175.75 C571.25,178.38 572.08,182.16 573.00,185.89 C573.92,189.61 575.00,194.57 576.00,198.08 C577.00,201.58 578.00,204.59 579.00,206.91 C580.00,209.24 580.83,210.62 582.00,212.04 C583.17,213.45 584.67,214.54 586.00,215.40 C587.33,216.26 588.50,216.63 590.00,217.19 C591.50,217.74 593.17,218.37 595.00,218.71 C596.83,219.06 598.50,219.13 601.00,219.24 C603.50,219.35 606.00,219.36 610.00,219.38 C614.00,219.41 619.17,219.40 625.00,219.40 C630.83,219.40 641.67,219.40 645.00,219.40" stroke="#5050ff"/>
<path d="M418.30,16.70 C418.30,17.58 418.30,19.78 418.30,22.00 C418.30,24.22 418.07,25.33 418.30,30.00 C418.53,34.67 419.22,43.33 419.70,50.00 C420.18,56.67 420.73,64.17 421.20,70.00 C421.67,75.83 422.07,80.00 422.50,85.00 C422.93,90.00 423.38,95.00 423.80,100.00 C424.22,105.00 424.55,110.00 425.00,115.00 C425.45,120.00 426.00,125.00 426.50,130.00 C427.00,135.00 427.57,139.17 428.00,145.00 C428.43,150.83 428.43,160.00 429.10,165.00 C429.77,170.00 430.85,172.17 432.00,175.00 C433.15,177.83 434.42,179.60 436.00,182.00 C437.58,184.40 439.50,187.48 441.50,189.40 C443.50,191.32 445.65,192.32 448.00,193.50 C450.35,194.68 452.77,195.42 455.60,196.50 C458.43,197.58 462.60,198.38 465.00,200.00 C467.40,201.62 465.83,205.00 470.00,206.24 C474.17,207.47 484.17,207.02 490.00,207.40 C495.83,207.78 500.00,208.13 505.00,208.49 C510.00,208.85 516.83,209.35 520.00,209.58 C523.17,209.81 522.67,209.77 524.00,209.86 C525.33,209.95 526.67,210.04 528.00,210.13 C529.33,210.22 530.67,210.30 532.00,210.37 C533.33,210.44 534.67,210.51 536.00,210.56 C537.33,210.61 538.83,210.63 540.00,210.65 C541.17,210.66 542.00,210.67 543.00,210.63 C544.00,210.59 545.00,210.45 546.00,210.41 C547.00,210.36 548.00,210.46 549.00,210.36 C550.00,210.25 551.00,210.16 552.00,209.79 C553.00,209.43 554.00,208.98 555.00,208.18 C556.00,207.38 557.08,206.15 558.00,205.01 C558.92,203.88 559.75,202.46 560.50,201.36 C561.25,200.26 561.83,199.27 562.50,198.41 C563.17,197.56 563.83,196.71 564.50,196.22 C565.17,195.72 565.83,195.41 566.50,195.44 C567.17,195.47 567.83,195.83 568.50,196.41 C569.17,196.99 569.75,197.78 570.50,198.94 C571.25,200.10 572.08,201.75 573.00,203.38 C573.92,205.00 575.00,207.16 576.00,208.71 C577.00,210.26 578.00,211.59 579.00,212.65 C580.00,213.71 580.83,214.36 582.00,215.05 C583.17,215.75 584.67,216.34 586.00,216.82 C587.33,217.30 588.50,217.56 590.00,217.93 C591.50,218.30 593.17,218.79 595.00,219.02 C596.83,219.26 598.50,219.27 601.00,219.33 C603.50,219.40 606.00,219.38 610.00,219.39 C614.00,219.40 619.17,219.40 625.00,219.40 C630.83,219.40 641.67,219.40 645.00,219.40" stroke="#ff6262"/>
<path d="M379.00,30.00 C379.28,34.17 380.03,46.67 380.70,55.00 C381.37,63.33 382.20,72.50 383.00,80.00 C383.80,87.50 384.75,93.33 385.50,100.00 C386.25,106.67 386.67,111.67 387.50,120.00 C388.33,128.33 389.43,141.33 390.50,150.00 C391.57,158.67 392.90,166.33 393.90,172.00 C394.90,177.67 395.62,180.80 396.50,184.00 C397.38,187.20 397.95,189.42 399.20,191.20 C400.45,192.98 402.23,193.82 404.00,194.70 C405.77,195.58 407.97,196.20 409.80,196.50 C411.63,196.80 412.67,196.20 415.00,196.50 C417.33,196.80 421.63,197.55 423.80,198.30 C425.97,199.05 426.52,200.12 428.00,201.00 C429.48,201.88 430.45,202.73 432.70,203.60 C434.95,204.47 438.28,205.58 441.50,206.20 C444.72,206.82 448.08,207.00 452.00,207.30 C455.92,207.60 458.67,207.63 465.00,208.00 C471.33,208.37 480.83,209.00 490.00,209.50 C499.17,210.00 514.33,210.72 520.00,210.99 C525.67,211.27 522.67,211.10 524.00,211.14 C525.33,211.19 526.67,211.24 528.00,211.27 C529.33,211.31 530.67,211.34 532.00,211.36 C533.33,211.38 534.67,211.40 536.00,211.38 C537.33,211.37 538.83,211.33 540.00,211.29 C541.17,211.24 542.00,211.26 543.00,211.10 C544.00,210.94 545.00,210.52 546.00,210.35 C547.00,210.17 548.00,210.27 549.00,210.04 C550.00,209.82 551.00,209.60 552.00,209.01 C553.00,208.41 554.00,207.68 555.00,206.46 C556.00,205.24 557.08,203.38 558.00,201.68 C558.92,199.98 559.75,197.89 560.50,196.26 C561.25,194.62 561.83,193.16 562.50,191.87 C563.17,190.59 563.83,189.33 564.50,188.57 C565.17,187.80 565.83,187.31 566.50,187.30 C567.17,187.29 567.83,187.75 568.50,188.54 C569.17,189.32 569.75,190.41 570.50,192.01 C571.25,193.62 572.08,195.92 573.00,198.18 C573.92,200.45 575.00,203.46 576.00,205.60 C577.00,207.74 578.00,209.59 579.00,211.03 C580.00,212.47 580.83,213.34 582.00,214.24 C583.17,215.15 584.67,215.88 586.00,216.46 C587.33,217.05 588.50,217.34 590.00,217.75 C591.50,218.16 593.17,218.68 595.00,218.94 C596.83,219.20 598.50,219.23 601.00,219.31 C603.50,219.38 606.00,219.37 610.00,219.39 C614.00,219.41 619.17,219.40 625.00,219.40 C630.83,219.40 641.67,219.40 645.00,219.40" stroke="#44a044"/>
<path d="M381.60,40.00 C381.63,40.67 381.70,41.50 381.80,44.00 C381.90,46.50 382.03,50.67 382.20,55.00 C382.37,59.33 382.57,64.50 382.80,70.00 C383.03,75.50 383.25,81.33 383.60,88.00 C383.95,94.67 384.38,102.17 384.90,110.00 C385.42,117.83 386.02,127.50 386.70,135.00 C387.38,142.50 388.12,149.50 389.00,155.00 C389.88,160.50 391.00,164.17 392.00,168.00 C393.00,171.83 393.80,174.50 395.00,178.00 C396.20,181.50 397.70,186.50 399.20,189.00 C400.70,191.50 402.23,191.93 404.00,193.00 C405.77,194.07 407.80,194.73 409.80,195.40 C411.80,196.07 413.88,196.40 416.00,197.00 C418.12,197.60 420.83,198.08 422.50,199.00 C424.17,199.92 424.75,201.42 426.00,202.50 C427.25,203.58 428.00,204.55 430.00,205.50 C432.00,206.45 434.67,207.48 438.00,208.20 C441.33,208.92 445.50,209.40 450.00,209.80 C454.50,210.20 458.33,210.23 465.00,210.60 C471.67,210.97 480.83,211.57 490.00,212.00 C499.17,212.43 514.33,212.98 520.00,213.20 C525.67,213.42 522.67,213.28 524.00,213.32 C525.33,213.36 526.67,213.40 528.00,213.44 C529.33,213.48 530.67,213.51 532.00,213.54 C533.33,213.57 534.67,213.60 536.00,213.62 C537.33,213.64 538.83,213.65 540.00,213.66 C541.17,213.66 542.00,213.68 543.00,213.64 C544.00,213.60 545.00,213.45 546.00,213.42 C547.00,213.39 548.00,213.50 549.00,213.47 C550.00,213.45 551.00,213.43 552.00,213.27 C553.00,213.11 554.00,212.90 555.00,212.52 C556.00,212.14 557.08,211.54 558.00,210.98 C558.92,210.42 559.75,209.72 560.50,209.17 C561.25,208.63 561.83,208.14 562.50,207.72 C563.17,207.29 563.83,206.88 564.50,206.64 C565.17,206.41 565.83,206.27 566.50,206.30 C567.17,206.33 567.83,206.53 568.50,206.85 C569.17,207.17 569.75,207.59 570.50,208.21 C571.25,208.82 572.08,209.69 573.00,210.55 C573.92,211.41 575.00,212.55 576.00,213.37 C577.00,214.19 578.00,214.90 579.00,215.47 C580.00,216.04 580.83,216.40 582.00,216.79 C583.17,217.17 584.67,217.52 586.00,217.80 C587.33,218.08 588.50,218.25 590.00,218.48 C591.50,218.71 593.17,219.03 595.00,219.18 C596.83,219.33 598.50,219.33 601.00,219.37 C603.50,219.40 606.00,219.39 610.00,219.40 C614.00,219.40 619.17,219.40 625.00,219.40 C630.83,219.40 641.67,219.40 645.00,219.40" stroke="#ff58ff"/>
<path d="M401.25,10.50 C401.32,12.08 401.52,16.75 401.66,20.00 C401.80,23.25 401.81,26.67 402.10,30.00 C402.39,33.33 402.85,35.83 403.39,40.00 C403.93,44.17 404.79,50.33 405.32,55.00 C405.86,59.67 406.12,63.00 406.61,68.00 C407.11,73.00 407.75,79.67 408.29,85.00 C408.83,90.33 409.32,95.00 409.84,100.00 C410.35,105.00 410.85,110.00 411.39,115.00 C411.92,120.00 412.24,124.17 413.06,130.00 C413.88,135.83 415.32,145.00 416.29,150.00 C417.25,155.00 417.90,156.67 418.86,160.00 C419.83,163.33 420.91,166.33 422.09,170.00 C423.27,173.67 424.47,178.33 425.94,182.00 C427.41,185.67 429.15,189.25 430.89,192.00 C432.63,194.75 433.46,196.50 436.39,198.50 C439.32,200.50 442.89,202.71 448.49,204.00 C454.09,205.29 463.08,205.67 470.00,206.24 C476.92,206.80 484.17,207.02 490.00,207.40 C495.83,207.78 500.00,208.13 505.00,208.49 C510.00,208.85 516.83,209.35 520.00,209.58 C523.17,209.81 522.67,209.77 524.00,209.86 C525.33,209.95 526.67,210.04 528.00,210.13 C529.33,210.21 530.67,210.30 532.00,210.36 C533.33,210.43 534.67,210.50 536.00,210.54 C537.33,210.58 538.83,210.60 540.00,210.60 C541.17,210.61 542.00,210.62 543.00,210.56 C544.00,210.51 545.00,210.35 546.00,210.28 C547.00,210.22 548.00,210.30 549.00,210.17 C550.00,210.04 551.00,209.92 552.00,209.50 C553.00,209.08 554.00,208.56 555.00,207.66 C556.00,206.76 557.08,205.37 558.00,204.10 C558.92,202.82 559.75,201.24 560.50,200.01 C561.25,198.78 561.83,197.67 562.50,196.71 C563.17,195.74 563.83,194.80 564.50,194.23 C565.17,193.67 565.83,193.32 566.50,193.34 C567.17,193.36 567.83,193.74 568.50,194.38 C569.17,195.02 569.75,195.88 570.50,197.15 C571.25,198.43 572.08,200.24 573.00,202.03 C573.92,203.82 575.00,206.19 576.00,207.89 C577.00,209.59 578.00,211.05 579.00,212.21 C580.00,213.36 580.83,214.07 582.00,214.82 C583.17,215.57 584.67,216.20 586.00,216.71 C587.33,217.21 588.50,217.49 590.00,217.87 C591.50,218.25 593.17,218.76 595.00,219.00 C596.83,219.24 598.50,219.26 601.00,219.33 C603.50,219.39 606.00,219.38 610.00,219.39 C614.00,219.40 619.17,219.40 625.00,219.40 C630.83,219.40 641.67,219.40 645.00,219.40" stroke="#444444"/>
<path d="M414.16,24.00 C414.19,24.50 414.28,26.00 414.33,27.00 C414.39,28.00 414.27,27.83 414.50,30.00 C414.73,32.17 415.19,35.83 415.68,40.00 C416.17,44.17 416.96,50.33 417.46,55.00 C417.95,59.67 418.18,63.00 418.64,68.00 C419.09,73.00 419.68,79.67 420.17,85.00 C420.67,90.33 421.12,95.00 421.59,100.00 C422.07,105.00 422.52,110.00 423.01,115.00 C423.50,120.00 423.80,124.17 424.55,130.00 C425.30,135.83 426.62,145.00 427.50,150.00 C428.39,155.00 428.98,156.67 429.87,160.00 C430.75,163.33 431.63,166.38 432.82,170.00 C434.01,173.62 435.42,178.13 437.02,181.70 C438.62,185.27 440.52,188.73 442.42,191.40 C444.32,194.07 445.22,195.77 448.42,197.70 C451.62,199.63 458.03,201.89 461.62,203.00 C465.22,204.11 465.27,203.98 470.00,204.38 C474.73,204.78 484.17,205.07 490.00,205.40 C495.83,205.73 500.00,206.04 505.00,206.35 C510.00,206.67 516.83,207.10 520.00,207.30 C523.17,207.50 522.67,207.47 524.00,207.54 C525.33,207.62 526.67,207.69 528.00,207.76 C529.33,207.82 530.67,207.89 532.00,207.93 C533.33,207.97 534.67,208.01 536.00,208.00 C537.33,207.99 538.83,207.94 540.00,207.89 C541.17,207.83 542.00,207.81 543.00,207.67 C544.00,207.53 545.00,207.22 546.00,207.07 C547.00,206.92 548.00,207.02 549.00,206.76 C550.00,206.51 551.00,206.27 552.00,205.55 C553.00,204.84 554.00,203.97 555.00,202.49 C556.00,201.00 557.08,198.74 558.00,196.66 C558.92,194.59 559.75,192.03 560.50,190.03 C561.25,188.03 561.83,186.23 562.50,184.67 C563.17,183.10 563.83,181.56 564.50,180.63 C565.17,179.71 565.83,179.11 566.50,179.12 C567.17,179.12 567.83,179.70 568.50,180.69 C569.17,181.67 569.75,183.02 570.50,185.02 C571.25,187.03 572.08,189.88 573.00,192.69 C573.92,195.51 575.00,199.25 576.00,201.92 C577.00,204.58 578.00,206.88 579.00,208.68 C580.00,210.48 580.83,211.57 582.00,212.71 C583.17,213.86 584.67,214.79 586.00,215.54 C587.33,216.30 588.50,216.68 590.00,217.22 C591.50,217.77 593.17,218.46 595.00,218.80 C596.83,219.15 598.50,219.19 601.00,219.28 C603.50,219.38 606.00,219.37 610.00,219.39 C614.00,219.41 619.17,219.40 625.00,219.40 C630.83,219.40 641.67,219.40 645.00,219.40" stroke="#b4b4b4"/>
<path d="M404.76,13.30 C404.82,14.42 404.96,17.22 405.10,20.00 C405.24,22.78 405.31,26.67 405.60,30.00 C405.89,33.33 406.33,35.83 406.86,40.00 C407.38,44.17 408.22,50.33 408.75,55.00 C409.27,59.67 409.52,63.00 410.01,68.00 C410.49,73.00 411.12,79.67 411.64,85.00 C412.17,90.33 412.65,95.00 413.16,100.00 C413.66,105.00 414.14,110.00 414.67,115.00 C415.19,120.00 415.51,124.17 416.30,130.00 C417.10,135.83 418.51,145.00 419.45,150.00 C420.40,155.00 421.03,156.67 421.97,160.00 C422.91,163.33 424.01,166.28 425.12,170.00 C426.23,173.72 427.28,178.53 428.62,182.30 C429.95,186.07 431.53,189.77 433.12,192.60 C434.70,195.43 435.45,197.23 438.12,199.30 C440.78,201.37 443.80,203.49 449.12,205.00 C454.43,206.51 463.19,207.65 470.00,208.38 C476.81,209.12 484.17,209.07 490.00,209.40 C495.83,209.73 500.00,210.04 505.00,210.35 C510.00,210.67 516.83,211.11 520.00,211.31 C523.17,211.51 522.67,211.47 524.00,211.56 C525.33,211.64 526.67,211.72 528.00,211.80 C529.33,211.87 530.67,211.95 532.00,212.02 C533.33,212.09 534.67,212.15 536.00,212.20 C537.33,212.25 538.83,212.29 540.00,212.32 C541.17,212.34 542.00,212.36 543.00,212.35 C544.00,212.34 545.00,212.26 546.00,212.25 C547.00,212.24 548.00,212.33 549.00,212.28 C550.00,212.23 551.00,212.19 552.00,211.97 C553.00,211.74 554.00,211.46 555.00,210.94 C556.00,210.43 557.08,209.62 558.00,208.87 C558.92,208.12 559.75,207.19 560.50,206.46 C561.25,205.74 561.83,205.08 562.50,204.52 C563.17,203.95 563.83,203.40 564.50,203.08 C565.17,202.76 565.83,202.56 566.50,202.59 C567.17,202.63 567.83,202.88 568.50,203.29 C569.17,203.70 569.75,204.24 570.50,205.04 C571.25,205.84 572.08,206.97 573.00,208.09 C573.92,209.21 575.00,210.69 576.00,211.75 C577.00,212.82 578.00,213.74 579.00,214.48 C580.00,215.21 580.83,215.67 582.00,216.16 C583.17,216.66 584.67,217.09 586.00,217.44 C587.33,217.79 588.50,218.00 590.00,218.28 C591.50,218.56 593.17,218.94 595.00,219.12 C596.83,219.30 598.50,219.31 601.00,219.36 C603.50,219.40 606.00,219.39 610.00,219.40 C614.00,219.40 619.17,219.40 625.00,219.40 C630.83,219.40 641.67,219.40 645.00,219.40" stroke="#a84444"/>
<path d="M411.43,15.00 C411.46,15.83 411.51,17.50 411.59,20.00 C411.67,22.50 411.65,26.67 411.90,30.00 C412.15,33.33 412.60,35.83 413.10,40.00 C413.61,44.17 414.41,50.33 414.91,55.00 C415.41,59.67 415.65,63.00 416.12,68.00 C416.58,73.00 417.18,79.67 417.68,85.00 C418.18,90.33 418.65,95.00 419.13,100.00 C419.61,105.00 420.07,110.00 420.57,115.00 C421.07,120.00 421.38,124.17 422.14,130.00 C422.90,135.83 424.25,145.00 425.15,150.00 C426.05,155.00 426.66,156.67 427.56,160.00 C428.46,163.33 429.49,166.23 430.57,170.00 C431.66,173.77 432.74,178.73 434.07,182.60 C435.40,186.47 436.99,190.28 438.57,193.20 C440.15,196.12 440.90,197.97 443.57,200.10 C446.24,202.23 450.17,204.26 454.57,206.00 C458.98,207.74 464.10,209.63 470.00,210.53 C475.90,211.43 484.17,211.12 490.00,211.40 C495.83,211.68 500.00,211.95 505.00,212.22 C510.00,212.49 516.83,212.86 520.00,213.03 C523.17,213.21 522.67,213.18 524.00,213.25 C525.33,213.32 526.67,213.39 528.00,213.46 C529.33,213.52 530.67,213.59 532.00,213.65 C533.33,213.71 534.67,213.77 536.00,213.81 C537.33,213.86 538.83,213.90 540.00,213.93 C541.17,213.95 542.00,213.98 543.00,213.97 C544.00,213.97 545.00,213.92 546.00,213.91 C547.00,213.91 548.00,213.97 549.00,213.94 C550.00,213.91 551.00,213.87 552.00,213.71 C553.00,213.54 554.00,213.33 555.00,212.94 C556.00,212.55 557.08,211.94 558.00,211.38 C558.92,210.81 559.75,210.11 560.50,209.56 C561.25,209.01 561.83,208.52 562.50,208.09 C563.17,207.67 563.83,207.25 564.50,207.01 C565.17,206.77 565.83,206.62 566.50,206.65 C567.17,206.68 567.83,206.87 568.50,207.18 C569.17,207.49 569.75,207.90 570.50,208.51 C571.25,209.11 572.08,209.97 573.00,210.81 C573.92,211.66 575.00,212.78 576.00,213.59 C577.00,214.39 578.00,215.09 579.00,215.65 C580.00,216.21 580.83,216.56 582.00,216.93 C583.17,217.31 584.67,217.63 586.00,217.90 C587.33,218.17 588.50,218.33 590.00,218.54 C591.50,218.76 593.17,219.05 595.00,219.19 C596.83,219.33 598.50,219.33 601.00,219.37 C603.50,219.40 606.00,219.39 610.00,219.40 C614.00,219.40 619.17,219.40 625.00,219.40 C630.83,219.40 641.67,219.40 645.00,219.40" stroke="#acac48"/>
<path d="M378.00,40.00 C378.45,46.67 380.03,69.17 380.70,80.00 C381.37,90.83 381.45,96.67 382.00,105.00 C382.55,113.33 383.25,122.17 384.00,130.00 C384.75,137.83 385.55,145.33 386.50,152.00 C387.45,158.67 388.78,164.83 389.70,170.00 C390.62,175.17 391.12,179.33 392.00,183.00 C392.88,186.67 393.67,189.42 395.00,192.00 C396.33,194.58 398.23,196.67 400.00,198.50 C401.77,200.33 403.10,201.50 405.60,203.00 C408.10,204.50 411.77,206.25 415.00,207.50 C418.23,208.75 421.17,209.50 425.00,210.50 C428.83,211.50 432.17,212.67 438.00,213.50 C443.83,214.33 451.33,215.00 460.00,215.50 C468.67,216.00 480.00,216.22 490.00,216.50 C500.00,216.78 514.33,217.07 520.00,217.20 C525.67,217.32 522.67,217.23 524.00,217.24 C525.33,217.26 526.67,217.27 528.00,217.29 C529.33,217.30 530.67,217.31 532.00,217.32 C533.33,217.33 534.67,217.34 536.00,217.35 C537.33,217.35 538.83,217.35 540.00,217.35 C541.17,217.34 542.00,217.35 543.00,217.33 C544.00,217.30 545.00,217.21 546.00,217.18 C547.00,217.16 548.00,217.19 549.00,217.16 C550.00,217.13 551.00,217.10 552.00,217.01 C553.00,216.91 554.00,216.79 555.00,216.57 C556.00,216.36 557.08,216.03 558.00,215.73 C558.92,215.43 559.75,215.06 560.50,214.77 C561.25,214.48 561.83,214.22 562.50,213.99 C563.17,213.76 563.83,213.54 564.50,213.41 C565.17,213.28 565.83,213.19 566.50,213.20 C567.17,213.21 567.83,213.30 568.50,213.45 C569.17,213.60 569.75,213.80 570.50,214.11 C571.25,214.41 572.08,214.84 573.00,215.26 C573.92,215.69 575.00,216.25 576.00,216.65 C577.00,217.06 578.00,217.40 579.00,217.68 C580.00,217.95 580.83,218.12 582.00,218.30 C583.17,218.48 584.67,218.63 586.00,218.75 C587.33,218.87 588.50,218.94 590.00,219.03 C591.50,219.12 593.17,219.25 595.00,219.30 C596.83,219.36 598.50,219.37 601.00,219.38 C603.50,219.40 606.00,219.40 610.00,219.40 C614.00,219.40 619.17,219.40 625.00,219.40 C630.83,219.40 641.67,219.40 645.00,219.40" stroke="#a854b0"/>
<path d="M407.81,14.20 C407.84,15.17 407.93,17.37 408.02,20.00 C408.12,22.63 408.13,26.67 408.40,30.00 C408.67,33.33 409.12,35.83 409.63,40.00 C410.15,44.17 410.97,50.33 411.49,55.00 C412.00,59.67 412.25,63.00 412.72,68.00 C413.20,73.00 413.81,79.67 414.33,85.00 C414.84,90.33 415.32,95.00 415.81,100.00 C416.30,105.00 416.78,110.00 417.29,115.00 C417.81,120.00 418.11,124.17 418.90,130.00 C419.68,135.83 421.06,145.00 421.98,150.00 C422.91,155.00 423.53,156.67 424.45,160.00 C425.38,163.33 426.41,166.26 427.54,170.00 C428.67,173.74 429.82,178.63 431.22,182.45 C432.62,186.27 434.28,190.03 435.94,192.90 C437.60,195.78 438.39,197.60 441.19,199.70 C443.99,201.80 447.94,203.86 452.74,205.50 C457.54,207.14 463.79,208.71 470.00,209.53 C476.21,210.34 484.17,210.12 490.00,210.40 C495.83,210.68 500.00,210.95 505.00,211.22 C510.00,211.49 516.83,211.86 520.00,212.03 C523.17,212.21 522.67,212.18 524.00,212.25 C525.33,212.32 526.67,212.39 528.00,212.46 C529.33,212.53 530.67,212.60 532.00,212.66 C533.33,212.73 534.67,212.79 536.00,212.85 C537.33,212.90 538.83,212.95 540.00,212.99 C541.17,213.03 542.00,213.05 543.00,213.08 C544.00,213.10 545.00,213.09 546.00,213.12 C547.00,213.16 548.00,213.27 549.00,213.30 C550.00,213.32 551.00,213.36 552.00,213.29 C553.00,213.23 554.00,213.14 555.00,212.93 C556.00,212.72 557.08,212.36 558.00,212.03 C558.92,211.70 559.75,211.27 560.50,210.94 C561.25,210.60 561.83,210.30 562.50,210.05 C563.17,209.80 563.83,209.55 564.50,209.42 C565.17,209.29 565.83,209.23 566.50,209.28 C567.17,209.33 567.83,209.50 568.50,209.74 C569.17,209.98 569.75,210.29 570.50,210.74 C571.25,211.19 572.08,211.81 573.00,212.42 C573.92,213.04 575.00,213.85 576.00,214.45 C577.00,215.04 578.00,215.57 579.00,216.00 C580.00,216.42 580.83,216.70 582.00,217.01 C583.17,217.33 584.67,217.62 586.00,217.87 C587.33,218.12 588.50,218.29 590.00,218.51 C591.50,218.73 593.17,219.06 595.00,219.21 C596.83,219.35 598.50,219.35 601.00,219.38 C603.50,219.41 606.00,219.39 610.00,219.40 C614.00,219.40 619.17,219.40 625.00,219.40 C630.83,219.40 641.67,219.40 645.00,219.40" stroke="#44449c"/>
<path d="M378.00,80.00 C378.45,86.67 380.03,110.83 380.70,120.00 C381.37,129.17 381.45,130.00 382.00,135.00 C382.55,140.00 383.08,144.17 384.00,150.00 C384.92,155.83 386.50,163.83 387.50,170.00 C388.50,176.17 389.12,182.05 390.00,187.00 C390.88,191.95 391.80,196.53 392.80,199.70 C393.80,202.87 394.58,204.07 396.00,206.00 C397.42,207.93 398.97,209.88 401.30,211.30 C403.63,212.72 406.82,213.63 410.00,214.50 C413.18,215.37 415.73,215.92 420.40,216.50 C425.07,217.08 430.57,217.67 438.00,218.00 C445.43,218.33 454.67,218.33 465.00,218.50 C475.33,218.67 490.83,218.90 500.00,219.00 C509.17,219.10 516.00,219.07 520.00,219.09 C524.00,219.11 522.67,219.10 524.00,219.11 C525.33,219.11 526.67,219.12 528.00,219.12 C529.33,219.13 530.67,219.13 532.00,219.13 C533.33,219.14 534.67,219.14 536.00,219.14 C537.33,219.15 538.83,219.15 540.00,219.14 C541.17,219.14 542.00,219.15 543.00,219.14 C544.00,219.13 545.00,219.10 546.00,219.08 C547.00,219.07 548.00,219.07 549.00,219.05 C550.00,219.03 551.00,219.01 552.00,218.97 C553.00,218.92 554.00,218.87 555.00,218.79 C556.00,218.70 557.08,218.58 558.00,218.47 C558.92,218.35 559.75,218.21 560.50,218.11 C561.25,218.00 561.83,217.90 562.50,217.81 C563.17,217.73 563.83,217.64 564.50,217.59 C565.17,217.54 565.83,217.50 566.50,217.50 C567.17,217.50 567.83,217.52 568.50,217.57 C569.17,217.62 569.75,217.68 570.50,217.78 C571.25,217.88 572.08,218.02 573.00,218.16 C573.92,218.30 575.00,218.49 576.00,218.62 C577.00,218.75 578.00,218.87 579.00,218.95 C580.00,219.04 580.83,219.09 582.00,219.14 C583.17,219.20 584.67,219.23 586.00,219.26 C587.33,219.30 588.50,219.31 590.00,219.33 C591.50,219.34 593.17,219.36 595.00,219.38 C596.83,219.39 598.50,219.39 601.00,219.39 C603.50,219.40 606.00,219.40 610.00,219.40 C614.00,219.40 619.17,219.40 625.00,219.40 C630.83,219.40 641.67,219.40 645.00,219.40" stroke="#5050ff"/>
<path d="M404.46,13.00 C404.51,14.17 404.64,17.17 404.76,20.00 C404.89,22.83 404.92,26.67 405.20,30.00 C405.48,33.33 405.94,35.83 406.46,40.00 C406.99,44.17 407.83,50.33 408.36,55.00 C408.88,59.67 409.14,63.00 409.62,68.00 C410.10,73.00 410.73,79.67 411.26,85.00 C411.79,90.33 412.27,95.00 412.78,100.00 C413.28,105.00 413.77,110.00 414.29,115.00 C414.82,120.00 415.13,124.17 415.93,130.00 C416.73,135.83 418.14,145.00 419.09,150.00 C420.04,155.00 420.67,156.67 421.62,160.00 C422.56,163.33 423.66,166.21 424.77,170.00 C425.88,173.79 426.94,178.83 428.27,182.75 C429.61,186.67 431.19,190.54 432.77,193.50 C434.36,196.46 435.11,198.33 437.77,200.50 C440.44,202.67 443.40,204.64 448.77,206.50 C454.14,208.36 463.13,210.69 470.00,211.67 C476.87,212.66 484.17,212.17 490.00,212.40 C495.83,212.63 500.00,212.85 505.00,213.08 C510.00,213.31 516.83,213.62 520.00,213.76 C523.17,213.91 522.67,213.88 524.00,213.94 C525.33,214.00 526.67,214.06 528.00,214.12 C529.33,214.17 530.67,214.23 532.00,214.29 C533.33,214.34 534.67,214.39 536.00,214.44 C537.33,214.48 538.83,214.53 540.00,214.56 C541.17,214.59 542.00,214.61 543.00,214.63 C544.00,214.65 545.00,214.63 546.00,214.66 C547.00,214.68 548.00,214.76 549.00,214.77 C550.00,214.79 551.00,214.80 552.00,214.74 C553.00,214.68 554.00,214.59 555.00,214.41 C556.00,214.22 557.08,213.91 558.00,213.62 C558.92,213.34 559.75,212.96 560.50,212.68 C561.25,212.40 561.83,212.14 562.50,211.92 C563.17,211.70 563.83,211.49 564.50,211.37 C565.17,211.26 565.83,211.20 566.50,211.24 C567.17,211.27 567.83,211.40 568.50,211.60 C569.17,211.80 569.75,212.05 570.50,212.41 C571.25,212.78 572.08,213.29 573.00,213.80 C573.92,214.31 575.00,214.97 576.00,215.46 C577.00,215.95 578.00,216.38 579.00,216.73 C580.00,217.07 580.83,217.30 582.00,217.55 C583.17,217.80 584.67,218.03 586.00,218.23 C587.33,218.42 588.50,218.55 590.00,218.72 C591.50,218.89 593.17,219.14 595.00,219.25 C596.83,219.36 598.50,219.36 601.00,219.38 C603.50,219.41 606.00,219.39 610.00,219.40 C614.00,219.40 619.17,219.40 625.00,219.40 C630.83,219.40 641.67,219.40 645.00,219.40" stroke="#ff6262"/>
<path d="M378.00,45.00 C378.45,49.17 379.95,61.67 380.70,70.00 C381.45,78.33 381.87,86.67 382.50,95.00 C383.13,103.33 383.83,112.50 384.50,120.00 C385.17,127.50 385.75,133.33 386.50,140.00 C387.25,146.67 388.17,154.00 389.00,160.00 C389.83,166.00 390.58,171.17 391.50,176.00 C392.42,180.83 393.42,185.33 394.50,189.00 C395.58,192.67 396.58,195.58 398.00,198.00 C399.42,200.42 401.00,202.08 403.00,203.50 C405.00,204.92 407.17,205.67 410.00,206.50 C412.83,207.33 416.67,207.92 420.00,208.50 C423.33,209.08 425.83,209.55 430.00,210.00 C434.17,210.45 439.17,210.90 445.00,211.20 C450.83,211.50 457.50,211.50 465.00,211.80 C472.50,212.10 480.83,212.55 490.00,213.00 C499.17,213.45 514.33,214.22 520.00,214.50 C525.67,214.78 522.67,214.60 524.00,214.66 C525.33,214.71 526.67,214.76 528.00,214.81 C529.33,214.86 530.67,214.91 532.00,214.96 C533.33,215.01 534.67,215.06 536.00,215.10 C537.33,215.14 538.83,215.18 540.00,215.21 C541.17,215.25 542.00,215.29 543.00,215.28 C544.00,215.28 545.00,215.19 546.00,215.20 C547.00,215.20 548.00,215.29 549.00,215.31 C550.00,215.33 551.00,215.35 552.00,215.30 C553.00,215.26 554.00,215.19 555.00,215.04 C556.00,214.90 557.08,214.65 558.00,214.42 C558.92,214.18 559.75,213.88 560.50,213.66 C561.25,213.43 561.83,213.21 562.50,213.04 C563.17,212.86 563.83,212.69 564.50,212.60 C565.17,212.51 565.83,212.46 566.50,212.50 C567.17,212.54 567.83,212.65 568.50,212.81 C569.17,212.98 569.75,213.19 570.50,213.50 C571.25,213.80 572.08,214.23 573.00,214.65 C573.92,215.07 575.00,215.63 576.00,216.04 C577.00,216.45 578.00,216.80 579.00,217.10 C580.00,217.39 580.83,217.58 582.00,217.79 C583.17,218.00 584.67,218.20 586.00,218.37 C587.33,218.54 588.50,218.65 590.00,218.80 C591.50,218.95 593.17,219.17 595.00,219.27 C596.83,219.37 598.50,219.36 601.00,219.38 C603.50,219.41 606.00,219.40 610.00,219.40 C614.00,219.40 619.17,219.40 625.00,219.40 C630.83,219.40 641.67,219.40 645.00,219.40" stroke="#44a044"/>
<path d="M598,219.2 C610,219.35 620,219.4 645,219.4" stroke="#44449c"/>
</g>
<path d="M392.34,230.0v-1.6 M392.34,10.0v1.6 M403.48,230.0v-1.6 M403.48,10.0v1.6 M414.62,230.0v-1.6 M414.62,10.0v1.6 M425.76,230.0v-1.6 M425.76,10.0v1.6 M436.90,230.0v-1.6 M436.90,10.0v1.6 M448.04,230.0v-1.6 M448.04,10.0v1.6 M459.18,230.0v-1.6 M459.18,10.0v1.6 M470.32,230.0v-1.6 M470.32,10.0v1.6 M481.46,230.0v-1.6 M481.46,10.0v1.6 M492.60,230.0v-1.6 M492.60,10.0v1.6 M503.74,230.0v-1.6 M503.74,10.0v1.6 M514.88,230.0v-1.6 M514.88,10.0v1.6 M526.02,230.0v-1.6 M526.02,10.0v1.6 M537.16,230.0v-1.6 M537.16,10.0v1.6 M548.30,230.0v-1.6 M548.30,10.0v1.6 M559.44,230.0v-1.6 M559.44,10.0v1.6 M570.58,230.0v-1.6 M570.58,10.0v1.6 M581.72,230.0v-1.6 M581.72,10.0v1.6 M592.86,230.0v-1.6 M592.86,10.0v1.6 M604.00,230.0v-1.6 M604.00,10.0v1.6 M615.14,230.0v-1.6 M615.14,10.0v1.6 M626.28,230.0v-1.6 M626.28,10.0v1.6 M637.42,230.0v-1.6 M637.42,10.0v1.6 M380.7,219.40h1.6 M648.0,219.40h-1.6 M380.7,167.05h1.6 M648.0,167.05h-1.6 M380.7,114.70h1.6 M648.0,114.70h-1.6 M380.7,62.35h1.6 M648.0,62.35h-1.6 M380.7,10.00h1.6 M648.0,10.00h-1.6" stroke="#444" stroke-width="1.0" fill="none"/>
<path d="M380.7,10.0H648.0V230.0H380.7Z" stroke="#858585" stroke-width="1.25" fill="none"/>
<path d="M380.7,10.0V230.0H648.0" stroke="#6e6e6e" stroke-width="1.25" fill="none"/>
<text class="n" x="377" y="221.90" font-size="7.2" text-anchor="end">0.00</text>
<text class="n" x="377" y="169.55" font-size="7.2" text-anchor="end">0.05</text>
<text class="n" x="377" y="117.20" font-size="7.2" text-anchor="end">0.10</text>
<text class="n" x="377" y="64.85" font-size="7.2" text-anchor="end">0.15</text>
<text class="n" x="377" y="12.50" font-size="7.2" text-anchor="end">0.20</text>
<text class="n" x="380.80" y="240.3" font-size="7.3" text-anchor="middle">350</text>
<text class="n" x="399.00" y="240.3" font-size="7.3" text-anchor="middle">381</text>
<text class="n" x="417.20" y="240.3" font-size="7.3" text-anchor="middle">412</text>
<text class="n" x="435.40" y="240.3" font-size="7.3" text-anchor="middle">443</text>
<text class="n" x="453.60" y="240.3" font-size="7.3" text-anchor="middle">474</text>
<text class="n" x="471.80" y="240.3" font-size="7.3" text-anchor="middle">505</text>
<text class="n" x="490.00" y="240.3" font-size="7.3" text-anchor="middle">536</text>
<text class="n" x="508.20" y="240.3" font-size="7.3" text-anchor="middle">567</text>
<text class="n" x="526.40" y="240.3" font-size="7.3" text-anchor="middle">598</text>
<text class="n" x="544.60" y="240.3" font-size="7.3" text-anchor="middle">629</text>
<text class="n" x="562.80" y="240.3" font-size="7.3" text-anchor="middle">660</text>
<text class="n" x="581.00" y="240.3" font-size="7.3" text-anchor="middle">691</text>
<text class="n" x="599.20" y="240.3" font-size="7.3" text-anchor="middle">722</text>
<text class="n" x="617.40" y="240.3" font-size="7.3" text-anchor="middle">753</text>
<text class="n" x="635.60" y="240.3" font-size="7.3" text-anchor="middle">784</text>
<text class="s" x="513.9" y="253.5" font-size="8.7" text-anchor="middle">Spectral region (nm)</text>
<text class="s" x="517.1" y="278.5" font-size="13.3" text-anchor="middle">(b)</text>
<text class="s" transform="translate(358.3,119.5) rotate(-90)" font-size="8.8" text-anchor="middle">Absorbance (u. a)</text>
<path d="M651,27.30H664" stroke="#6a6aff" stroke-width="1.2"/>
<text class="s" x="667.4" y="30.30" font-size="8.8">Me1</text>
<path d="M651,37.38H664" stroke="#ff7a7a" stroke-width="1.2"/>
<text class="s" x="667.4" y="40.38" font-size="8.8">Me2</text>
<path d="M651,47.46H664" stroke="#6ab46a" stroke-width="1.2"/>
<text class="s" x="667.4" y="50.46" font-size="8.8">Eq1</text>
<path d="M651,57.54H664" stroke="#ff6aff" stroke-width="1.2"/>
<text class="s" x="667.4" y="60.54" font-size="8.8">Eq2</text>
<path d="M651,67.62H664" stroke="#606060" stroke-width="1.2"/>
<text class="s" x="667.4" y="70.62" font-size="8.8">Ur1</text>
<path d="M651,77.70H664" stroke="#c8c8c8" stroke-width="1.2"/>
<text class="s" x="667.4" y="80.70" font-size="8.8">Ur2</text>
<path d="M651,87.78H664" stroke="#b86a6a" stroke-width="1.2"/>
<text class="s" x="667.4" y="90.78" font-size="8.8">Hy1</text>
<path d="M651,97.86H664" stroke="#c0c070" stroke-width="1.2"/>
<text class="s" x="667.4" y="100.86" font-size="8.8">Hy2</text>
<path d="M651,107.94H664" stroke="#c07ac8" stroke-width="1.2"/>
<text class="s" x="667.4" y="110.94" font-size="8.8">Ta1</text>
<path d="M651,118.02H664" stroke="#7a7ac0" stroke-width="1.2"/>
<text class="s" x="667.4" y="121.02" font-size="8.8">Ta2</text>
<path d="M651,128.10H664" stroke="#6a6aff" stroke-width="1.2"/>
<text class="s" x="667.4" y="131.10" font-size="8.8">Ju1</text>
<path d="M651,138.18H664" stroke="#ff7a7a" stroke-width="1.2"/>
<text class="s" x="667.4" y="141.18" font-size="8.8">Ju2</text>
<path d="M651,148.26H664" stroke="#6ab46a" stroke-width="1.2"/>
<text class="s" x="667.4" y="151.26" font-size="8.8">Va1</text>
<path d="M651,158.34H664" stroke="#ff6aff" stroke-width="1.2"/>
<text class="s" x="667.4" y="161.34" font-size="8.8">Va2</text>
<path d="M651,168.42H664" stroke="#606060" stroke-width="1.2"/>
<text class="s" x="667.4" y="171.42" font-size="8.8">Ag1</text>
<path d="M651,178.50H664" stroke="#c8c8c8" stroke-width="1.2"/>
<text class="s" x="667.4" y="181.50" font-size="8.8">Ag2</text>
<path d="M651,188.58H664" stroke="#b86a6a" stroke-width="1.2"/>
<text class="s" x="667.4" y="191.58" font-size="8.8">Sa1</text>
<path d="M651,198.66H664" stroke="#c0c070" stroke-width="1.2"/>
<text class="s" x="667.4" y="201.66" font-size="8.8">Sa2</text>
<path d="M651,208.74H664" stroke="#c07ac8" stroke-width="1.2"/>
<text class="s" x="667.4" y="211.74" font-size="8.8">Ru1</text>
<path d="M651,218.82H664" stroke="#7a7ac0" stroke-width="1.2"/>
<text class="s" x="667.4" y="221.82" font-size="8.8">Ru2</text>
<path d="M651,228.90H664" stroke="#6a6aff" stroke-width="1.2"/>
<text class="s" x="667.4" y="231.90" font-size="8.8">Lq1</text>
<path d="M651,238.98H664" stroke="#ff7a7a" stroke-width="1.2"/>
<text class="s" x="667.4" y="241.98" font-size="8.8">Lq2</text>
<path d="M651,249.06H664" stroke="#6ab46a" stroke-width="1.2"/>
<text class="s" x="667.4" y="252.06" font-size="8.8">Sy1</text>
</g></svg>
</body></html>
